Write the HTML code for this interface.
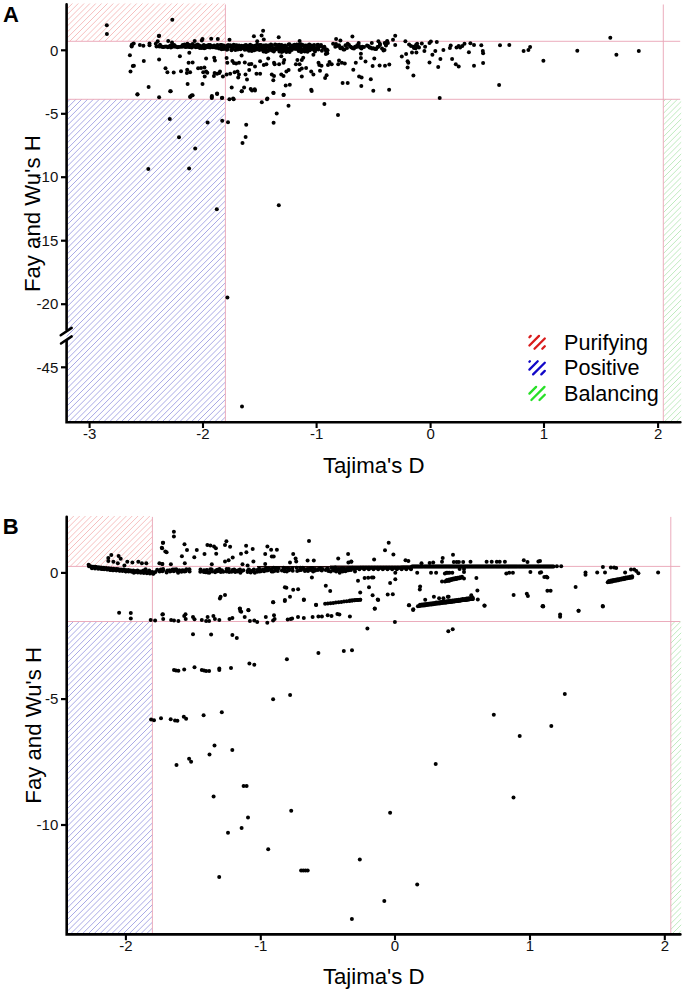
<!DOCTYPE html>
<html><head><meta charset="utf-8"><style>
html,body{margin:0;padding:0;background:#fff;}
body{width:685px;height:992px;overflow:hidden;}
svg{display:block;font-family:"Liberation Sans",sans-serif;}
.tk{font-size:15px;fill:#111;}
.lab{font-size:22.2px;fill:#000;}
.lg{font-size:21.6px;fill:#000;}
.pl{font-size:22px;font-weight:bold;fill:#000;}
</style></head><body>
<svg width="685" height="992" viewBox="0 0 685 992">
<defs>
<filter id="bl" x="-2%" y="-2%" width="104%" height="104%"><feGaussianBlur stdDeviation="0.45"/></filter>

</defs>
<rect width="685" height="992" fill="#fff"/>
<clipPath id="cra"><rect x="66.6" y="3.5" width="158.8" height="37.8"/></clipPath><g clip-path="url(#cra)"><path filter="url(#bl)" d="M65.6 10.3L73.4 2.5M65.6 16.2L79.3 2.5M65.6 22L85.1 2.5M65.6 27.8L90.9 2.5M65.6 33.7L96.8 2.5M65.6 39.5L102.6 2.5M68.7 42.3L108.5 2.5M74.5 42.3L114.3 2.5M80.3 42.3L120.1 2.5M86.2 42.3L126 2.5M92 42.3L131.8 2.5M97.9 42.3L137.7 2.5M103.7 42.3L143.5 2.5M109.5 42.3L149.3 2.5M115.4 42.3L155.2 2.5M121.2 42.3L161 2.5M127.1 42.3L166.9 2.5M132.9 42.3L172.7 2.5M138.7 42.3L178.5 2.5M144.6 42.3L184.4 2.5M150.4 42.3L190.2 2.5M156.3 42.3L196.1 2.5M162.1 42.3L201.9 2.5M167.9 42.3L207.7 2.5M173.8 42.3L213.6 2.5M179.6 42.3L219.4 2.5M185.5 42.3L225.3 2.5M191.3 42.3L226.4 7.2M197.1 42.3L226.4 13M203 42.3L226.4 18.9M208.8 42.3L226.4 24.7M214.7 42.3L226.4 30.6M220.5 42.3L226.4 36.4" stroke="#f5bcbc" stroke-width="0.95" fill="none"/></g><clipPath id="cba"><rect x="66.6" y="99.3" width="158.8" height="322.9"/></clipPath><g clip-path="url(#cba)"><path filter="url(#bl)" d="M65.6 103.8L71.1 98.3M65.6 109.6L76.9 98.3M65.6 115.4L82.7 98.3M65.6 121.3L88.6 98.3M65.6 127.1L94.4 98.3M65.6 133L100.3 98.3M65.6 138.8L106.1 98.3M65.6 144.6L111.9 98.3M65.6 150.5L117.8 98.3M65.6 156.3L123.6 98.3M65.6 162.2L129.5 98.3M65.6 168L135.3 98.3M65.6 173.8L141.1 98.3M65.6 179.7L147 98.3M65.6 185.5L152.8 98.3M65.6 191.4L158.7 98.3M65.6 197.2L164.5 98.3M65.6 203L170.3 98.3M65.6 208.9L176.2 98.3M65.6 214.7L182 98.3M65.6 220.6L187.9 98.3M65.6 226.4L193.7 98.3M65.6 232.2L199.5 98.3M65.6 238.1L205.4 98.3M65.6 243.9L211.2 98.3M65.6 249.8L217.1 98.3M65.6 255.6L222.9 98.3M65.6 261.4L226.4 100.6M65.6 267.3L226.4 106.5M65.6 273.1L226.4 112.3M65.6 279L226.4 118.2M65.6 284.8L226.4 124M65.6 290.6L226.4 129.8M65.6 296.5L226.4 135.7M65.6 302.3L226.4 141.5M65.6 308.2L226.4 147.4M65.6 314L226.4 153.2M65.6 319.8L226.4 159M65.6 325.7L226.4 164.9M65.6 331.5L226.4 170.7M65.6 337.4L226.4 176.6M65.6 343.2L226.4 182.4M65.6 349L226.4 188.2M65.6 354.9L226.4 194.1M65.6 360.7L226.4 199.9M65.6 366.6L226.4 205.8M65.6 372.4L226.4 211.6M65.6 378.2L226.4 217.4M65.6 384.1L226.4 223.3M65.6 389.9L226.4 229.1M65.6 395.8L226.4 235M65.6 401.6L226.4 240.8M65.6 407.4L226.4 246.6M65.6 413.3L226.4 252.5M65.6 419.1L226.4 258.3M67.4 423.2L226.4 264.2M73.2 423.2L226.4 270M79 423.2L226.4 275.8M84.9 423.2L226.4 281.7M90.7 423.2L226.4 287.5M96.6 423.2L226.4 293.4M102.4 423.2L226.4 299.2M108.2 423.2L226.4 305M114.1 423.2L226.4 310.9M119.9 423.2L226.4 316.7M125.8 423.2L226.4 322.6M131.6 423.2L226.4 328.4M137.4 423.2L226.4 334.2M143.3 423.2L226.4 340.1M149.1 423.2L226.4 345.9M155 423.2L226.4 351.8M160.8 423.2L226.4 357.6M166.6 423.2L226.4 363.4M172.5 423.2L226.4 369.3M178.3 423.2L226.4 375.1M184.2 423.2L226.4 381M190 423.2L226.4 386.8M195.8 423.2L226.4 392.6M201.7 423.2L226.4 398.5M207.5 423.2L226.4 404.3M213.4 423.2L226.4 410.2M219.2 423.2L226.4 416" stroke="#a4a4e4" stroke-width="0.95" fill="none"/></g><clipPath id="cga"><rect x="663.3" y="99.3" width="17.9" height="322.9"/></clipPath><g clip-path="url(#cga)"><path filter="url(#bl)" d="M662.3 102.7L666.7 98.3M662.3 108.6L672.6 98.3M662.3 114.4L678.4 98.3M662.3 120.3L682.2 100.4M662.3 126.1L682.2 106.2M662.3 131.9L682.2 112M662.3 137.8L682.2 117.9M662.3 143.6L682.2 123.7M662.3 149.5L682.2 129.6M662.3 155.3L682.2 135.4M662.3 161.1L682.2 141.2M662.3 167L682.2 147.1M662.3 172.8L682.2 152.9M662.3 178.7L682.2 158.8M662.3 184.5L682.2 164.6M662.3 190.3L682.2 170.4M662.3 196.2L682.2 176.3M662.3 202L682.2 182.1M662.3 207.9L682.2 188M662.3 213.7L682.2 193.8M662.3 219.5L682.2 199.6M662.3 225.4L682.2 205.5M662.3 231.2L682.2 211.3M662.3 237.1L682.2 217.2M662.3 242.9L682.2 223M662.3 248.7L682.2 228.8M662.3 254.6L682.2 234.7M662.3 260.4L682.2 240.5M662.3 266.3L682.2 246.4M662.3 272.1L682.2 252.2M662.3 277.9L682.2 258M662.3 283.8L682.2 263.9M662.3 289.6L682.2 269.7M662.3 295.5L682.2 275.6M662.3 301.3L682.2 281.4M662.3 307.1L682.2 287.2M662.3 313L682.2 293.1M662.3 318.8L682.2 298.9M662.3 324.7L682.2 304.8M662.3 330.5L682.2 310.6M662.3 336.3L682.2 316.4M662.3 342.2L682.2 322.3M662.3 348L682.2 328.1M662.3 353.9L682.2 334M662.3 359.7L682.2 339.8M662.3 365.5L682.2 345.6M662.3 371.4L682.2 351.5M662.3 377.2L682.2 357.3M662.3 383.1L682.2 363.2M662.3 388.9L682.2 369M662.3 394.7L682.2 374.8M662.3 400.6L682.2 380.7M662.3 406.4L682.2 386.5M662.3 412.3L682.2 392.4M662.3 418.1L682.2 398.2M663 423.2L682.2 404M668.9 423.2L682.2 409.9M674.7 423.2L682.2 415.7" stroke="#bce9bc" stroke-width="0.95" fill="none"/></g><path d="M66.6 41.3H680.2M66.6 99.3H680.2M225.4 4.5V422.2M663.3 4.5V422.2" stroke="#eaa8b8" stroke-width="0.95" fill="none"/>
<clipPath id="crb"><rect x="66.7" y="515.9" width="85.7" height="50.5"/></clipPath><g clip-path="url(#crb)"><path filter="url(#bl)" d="M65.7 518.3L69.1 514.9M65.7 524.1L74.9 514.9M65.7 530L80.8 514.9M65.7 535.8L86.6 514.9M65.7 541.7L92.5 514.9M65.7 547.5L98.3 514.9M65.7 553.3L104.1 514.9M65.7 559.2L110 514.9M65.7 565L115.8 514.9M69.2 567.4L121.7 514.9M75 567.4L127.5 514.9M80.8 567.4L133.3 514.9M86.7 567.4L139.2 514.9M92.5 567.4L145 514.9M98.4 567.4L150.9 514.9M104.2 567.4L153.4 518.2M110 567.4L153.4 524M115.9 567.4L153.4 529.9M121.7 567.4L153.4 535.7M127.6 567.4L153.4 541.6M133.4 567.4L153.4 547.4M139.2 567.4L153.4 553.2M145.1 567.4L153.4 559.1M150.9 567.4L153.4 564.9" stroke="#f5bcbc" stroke-width="0.95" fill="none"/></g><clipPath id="cbb"><rect x="66.7" y="621.5" width="85.7" height="312.9"/></clipPath><g clip-path="url(#cbb)"><path filter="url(#bl)" d="M65.7 623.4L68.6 620.5M65.7 629.3L74.5 620.5M65.7 635.1L80.3 620.5M65.7 640.9L86.1 620.5M65.7 646.8L92 620.5M65.7 652.6L97.8 620.5M65.7 658.5L103.7 620.5M65.7 664.3L109.5 620.5M65.7 670.1L115.3 620.5M65.7 676L121.2 620.5M65.7 681.8L127 620.5M65.7 687.7L132.9 620.5M65.7 693.5L138.7 620.5M65.7 699.3L144.5 620.5M65.7 705.2L150.4 620.5M65.7 711L153.4 623.3M65.7 716.9L153.4 629.2M65.7 722.7L153.4 635M65.7 728.5L153.4 640.8M65.7 734.4L153.4 646.7M65.7 740.2L153.4 652.5M65.7 746.1L153.4 658.4M65.7 751.9L153.4 664.2M65.7 757.7L153.4 670M65.7 763.6L153.4 675.9M65.7 769.4L153.4 681.7M65.7 775.3L153.4 687.6M65.7 781.1L153.4 693.4M65.7 786.9L153.4 699.2M65.7 792.8L153.4 705.1M65.7 798.6L153.4 710.9M65.7 804.5L153.4 716.8M65.7 810.3L153.4 722.6M65.7 816.1L153.4 728.4M65.7 822L153.4 734.3M65.7 827.8L153.4 740.1M65.7 833.7L153.4 746M65.7 839.5L153.4 751.8M65.7 845.3L153.4 757.6M65.7 851.2L153.4 763.5M65.7 857L153.4 769.3M65.7 862.9L153.4 775.2M65.7 868.7L153.4 781M65.7 874.5L153.4 786.8M65.7 880.4L153.4 792.7M65.7 886.2L153.4 798.5M65.7 892.1L153.4 804.4M65.7 897.9L153.4 810.2M65.7 903.7L153.4 816M65.7 909.6L153.4 821.9M65.7 915.4L153.4 827.7M65.7 921.3L153.4 833.6M65.7 927.1L153.4 839.4M65.7 932.9L153.4 845.2M69.1 935.4L153.4 851.1M74.9 935.4L153.4 856.9M80.8 935.4L153.4 862.8M86.6 935.4L153.4 868.6M92.4 935.4L153.4 874.4M98.3 935.4L153.4 880.3M104.1 935.4L153.4 886.1M110 935.4L153.4 892M115.8 935.4L153.4 897.8M121.6 935.4L153.4 903.6M127.5 935.4L153.4 909.5M133.3 935.4L153.4 915.3M139.2 935.4L153.4 921.2M145 935.4L153.4 927M150.8 935.4L153.4 932.8" stroke="#a4a4e4" stroke-width="0.95" fill="none"/></g><clipPath id="cgb"><rect x="670.8" y="621.5" width="10.4" height="312.9"/></clipPath><g clip-path="url(#cgb)"><path filter="url(#bl)" d="M669.8 626.7L676 620.5M669.8 632.5L681.8 620.5M669.8 638.4L682.2 626M669.8 644.2L682.2 631.8M669.8 650L682.2 637.6M669.8 655.9L682.2 643.5M669.8 661.7L682.2 649.3M669.8 667.6L682.2 655.2M669.8 673.4L682.2 661M669.8 679.2L682.2 666.8M669.8 685.1L682.2 672.7M669.8 690.9L682.2 678.5M669.8 696.8L682.2 684.4M669.8 702.6L682.2 690.2M669.8 708.4L682.2 696M669.8 714.3L682.2 701.9M669.8 720.1L682.2 707.7M669.8 726L682.2 713.6M669.8 731.8L682.2 719.4M669.8 737.6L682.2 725.2M669.8 743.5L682.2 731.1M669.8 749.3L682.2 736.9M669.8 755.2L682.2 742.8M669.8 761L682.2 748.6M669.8 766.8L682.2 754.4M669.8 772.7L682.2 760.3M669.8 778.5L682.2 766.1M669.8 784.4L682.2 772M669.8 790.2L682.2 777.8M669.8 796L682.2 783.6M669.8 801.9L682.2 789.5M669.8 807.7L682.2 795.3M669.8 813.6L682.2 801.2M669.8 819.4L682.2 807M669.8 825.2L682.2 812.8M669.8 831.1L682.2 818.7M669.8 836.9L682.2 824.5M669.8 842.8L682.2 830.4M669.8 848.6L682.2 836.2M669.8 854.4L682.2 842M669.8 860.3L682.2 847.9M669.8 866.1L682.2 853.7M669.8 872L682.2 859.6M669.8 877.8L682.2 865.4M669.8 883.6L682.2 871.2M669.8 889.5L682.2 877.1M669.8 895.3L682.2 882.9M669.8 901.2L682.2 888.8M669.8 907L682.2 894.6M669.8 912.8L682.2 900.4M669.8 918.7L682.2 906.3M669.8 924.5L682.2 912.1M669.8 930.4L682.2 918M670.6 935.4L682.2 923.8M676.4 935.4L682.2 929.6" stroke="#bce9bc" stroke-width="0.95" fill="none"/></g><path d="M66.7 566.4H680.2M66.7 621.5H680.2M152.4 516.9V934.4M670.8 516.9V934.4" stroke="#eaa8b8" stroke-width="0.95" fill="none"/>
<path d="M257 566.7H330" stroke="#1a0505" stroke-width="1.4"/><path d="M330 566.6H412" stroke="#1a0505" stroke-width="2.2"/>
<g fill="#000"><circle cx="106.8" cy="25.2" r="2.0"/><circle cx="106.9" cy="33.9" r="2.0"/><circle cx="172.3" cy="19.7" r="2.0"/><circle cx="159.1" cy="35.8" r="2.0"/><circle cx="158.9" cy="36.1" r="2.0"/><circle cx="168.2" cy="40.9" r="2.0"/><circle cx="157.7" cy="41.2" r="2.0"/><circle cx="172" cy="42.6" r="2.0"/><circle cx="194.7" cy="40.9" r="2.0"/><circle cx="202.5" cy="39.1" r="2.0"/><circle cx="201.8" cy="40.6" r="2.0"/><circle cx="211.2" cy="38.7" r="2.0"/><circle cx="217.8" cy="39.1" r="2.0"/><circle cx="263.1" cy="30.7" r="2.0"/><circle cx="253.9" cy="36.2" r="2.0"/><circle cx="261.6" cy="35.5" r="2.0"/><circle cx="278.7" cy="37.2" r="2.0"/><circle cx="229.5" cy="39.7" r="2.0"/><circle cx="263.8" cy="39.4" r="2.0"/><circle cx="299.6" cy="40.9" r="2.0"/><circle cx="257.2" cy="41.2" r="2.0"/><circle cx="352.4" cy="36.5" r="2.0"/><circle cx="395.2" cy="35.8" r="2.0"/><circle cx="336.1" cy="39.1" r="2.0"/><circle cx="340.4" cy="40.6" r="2.0"/><circle cx="393" cy="39.7" r="2.0"/><circle cx="405.4" cy="41.2" r="2.0"/><circle cx="378.4" cy="41.2" r="2.0"/><circle cx="387.2" cy="40.9" r="2.0"/><circle cx="358.7" cy="43.1" r="2.0"/><circle cx="371.8" cy="43.1" r="2.0"/><circle cx="421.8" cy="43.5" r="2.0"/><circle cx="429.5" cy="43.1" r="2.0"/><circle cx="430.9" cy="41.6" r="2.0"/><circle cx="436.8" cy="42" r="2.0"/><circle cx="610.3" cy="37.8" r="2.0"/><circle cx="131.5" cy="45.8" r="2.0"/><circle cx="133.7" cy="43.6" r="2.0"/><circle cx="132" cy="44.5" r="2.0"/><circle cx="131.7" cy="46.4" r="2.0"/><circle cx="139.9" cy="44.9" r="2.0"/><circle cx="143.4" cy="45.8" r="2.0"/><circle cx="149.5" cy="43.6" r="2.0"/><circle cx="149.5" cy="45.3" r="2.0"/><circle cx="155.8" cy="43.8" r="2.0"/><circle cx="156.5" cy="46.4" r="2.0"/><circle cx="320.7" cy="46" r="2.0"/><circle cx="324.4" cy="46.7" r="2.0"/><circle cx="326.6" cy="49.6" r="2.0"/><circle cx="333.1" cy="43.8" r="2.0"/><circle cx="335.3" cy="46.7" r="2.0"/><circle cx="339" cy="45.3" r="2.0"/><circle cx="340.4" cy="48.2" r="2.0"/><circle cx="343.4" cy="49.6" r="2.0"/><circle cx="345.5" cy="45.3" r="2.0"/><circle cx="347.7" cy="43.8" r="2.0"/><circle cx="350.7" cy="46.7" r="2.0"/><circle cx="352.8" cy="48.2" r="2.0"/><circle cx="355" cy="46.7" r="2.0"/><circle cx="357.2" cy="45.3" r="2.0"/><circle cx="360.1" cy="47.4" r="2.0"/><circle cx="362.3" cy="46.7" r="2.0"/><circle cx="368.2" cy="46" r="2.0"/><circle cx="370.4" cy="47.4" r="2.0"/><circle cx="373.3" cy="48.2" r="2.0"/><circle cx="376.2" cy="48.9" r="2.0"/><circle cx="378.4" cy="46.7" r="2.0"/><circle cx="379.9" cy="43.8" r="2.0"/><circle cx="383.5" cy="50.4" r="2.0"/><circle cx="385.7" cy="44.5" r="2.0"/><circle cx="387.9" cy="43.1" r="2.0"/><circle cx="395.2" cy="45" r="2.0"/><circle cx="409.1" cy="44.5" r="2.0"/><circle cx="413.4" cy="46.7" r="2.0"/><circle cx="415.6" cy="48.2" r="2.0"/><circle cx="417.1" cy="43.8" r="2.0"/><circle cx="417.8" cy="46.7" r="2.0"/><circle cx="425.1" cy="46.7" r="2.0"/><circle cx="424.4" cy="51.1" r="2.0"/><circle cx="435.3" cy="51.1" r="2.0"/><circle cx="432.4" cy="54.7" r="2.0"/><circle cx="443.4" cy="49.9" r="2.0"/><circle cx="450.7" cy="45.5" r="2.0"/><circle cx="449.9" cy="47.9" r="2.0"/><circle cx="456.5" cy="47.4" r="2.0"/><circle cx="458.7" cy="46" r="2.0"/><circle cx="460.1" cy="47.4" r="2.0"/><circle cx="462.3" cy="46" r="2.0"/><circle cx="464.5" cy="43.8" r="2.0"/><circle cx="470.4" cy="43.2" r="2.0"/><circle cx="474" cy="45" r="2.0"/><circle cx="481.3" cy="45.3" r="2.0"/><circle cx="500" cy="45.3" r="2.0"/><circle cx="509.3" cy="45" r="2.0"/><circle cx="468.9" cy="52.3" r="2.0"/><circle cx="482.8" cy="51.1" r="2.0"/><circle cx="483.1" cy="53.3" r="2.0"/><circle cx="440.4" cy="59.1" r="2.0"/><circle cx="452.1" cy="59.1" r="2.0"/><circle cx="429.5" cy="62.5" r="2.0"/><circle cx="455.8" cy="64.2" r="2.0"/><circle cx="458.7" cy="66.4" r="2.0"/><circle cx="438.2" cy="66.9" r="2.0"/><circle cx="474" cy="65.7" r="2.0"/><circle cx="483.1" cy="63.1" r="2.0"/><circle cx="499.1" cy="85" r="2.0"/><circle cx="439.7" cy="98.1" r="2.0"/><circle cx="523.6" cy="51.1" r="2.0"/><circle cx="528.4" cy="50.1" r="2.0"/><circle cx="530.1" cy="47" r="2.0"/><circle cx="543.4" cy="60.7" r="2.0"/><circle cx="577.3" cy="50.8" r="2.0"/><circle cx="616.4" cy="54.7" r="2.0"/><circle cx="638.8" cy="51.1" r="2.0"/><circle cx="129.9" cy="55.2" r="2.0"/><circle cx="143.8" cy="61" r="2.0"/><circle cx="159.1" cy="59.6" r="2.0"/><circle cx="179.9" cy="56.2" r="2.0"/><circle cx="189.3" cy="52.8" r="2.0"/><circle cx="206.1" cy="58.4" r="2.0"/><circle cx="214.2" cy="57.7" r="2.0"/><circle cx="214.9" cy="60.6" r="2.0"/><circle cx="133.9" cy="65.7" r="2.0"/><circle cx="132.8" cy="65.9" r="2.0"/><circle cx="188.6" cy="62.8" r="2.0"/><circle cx="192.6" cy="62.5" r="2.0"/><circle cx="130.5" cy="71.5" r="2.0"/><circle cx="165.5" cy="68.2" r="2.0"/><circle cx="167.4" cy="72.3" r="2.0"/><circle cx="173.7" cy="72.6" r="2.0"/><circle cx="181" cy="71.2" r="2.0"/><circle cx="187.2" cy="69.8" r="2.0"/><circle cx="186.9" cy="73" r="2.0"/><circle cx="190.1" cy="72.3" r="2.0"/><circle cx="198.1" cy="68.3" r="2.0"/><circle cx="201" cy="67.9" r="2.0"/><circle cx="204.4" cy="67.4" r="2.0"/><circle cx="203.2" cy="72.3" r="2.0"/><circle cx="206.1" cy="71.5" r="2.0"/><circle cx="207.3" cy="72.7" r="2.0"/><circle cx="204.7" cy="76.6" r="2.0"/><circle cx="214.6" cy="73" r="2.0"/><circle cx="217.1" cy="73.7" r="2.0"/><circle cx="219.3" cy="73" r="2.0"/><circle cx="213.9" cy="75.9" r="2.0"/><circle cx="187.6" cy="83.9" r="2.0"/><circle cx="202.5" cy="83.9" r="2.0"/><circle cx="148.6" cy="86.9" r="2.0"/><circle cx="137.5" cy="94.3" r="2.0"/><circle cx="170.7" cy="91.2" r="2.0"/><circle cx="159.1" cy="97.3" r="2.0"/><circle cx="191.5" cy="95.6" r="2.0"/><circle cx="190.1" cy="97.1" r="2.0"/><circle cx="211.7" cy="97.1" r="2.0"/><circle cx="217.1" cy="93.4" r="2.0"/><circle cx="241.6" cy="55.5" r="2.0"/><circle cx="226.6" cy="58.1" r="2.0"/><circle cx="227.3" cy="62.8" r="2.0"/><circle cx="232.4" cy="61" r="2.0"/><circle cx="233.9" cy="63.1" r="2.0"/><circle cx="236.1" cy="63.5" r="2.0"/><circle cx="239" cy="62.8" r="2.0"/><circle cx="244.8" cy="62.5" r="2.0"/><circle cx="249.2" cy="64.2" r="2.0"/><circle cx="251.4" cy="63.9" r="2.0"/><circle cx="255" cy="66.4" r="2.0"/><circle cx="260.1" cy="61.3" r="2.0"/><circle cx="263.8" cy="65" r="2.0"/><circle cx="266.4" cy="64.2" r="2.0"/><circle cx="268.2" cy="58.4" r="2.0"/><circle cx="274" cy="62.8" r="2.0"/><circle cx="274.7" cy="64.2" r="2.0"/><circle cx="279.1" cy="64.2" r="2.0"/><circle cx="281.3" cy="56.2" r="2.0"/><circle cx="284.2" cy="59.9" r="2.0"/><circle cx="283.5" cy="62.8" r="2.0"/><circle cx="297.4" cy="59.9" r="2.0"/><circle cx="295.9" cy="64.2" r="2.0"/><circle cx="299.6" cy="64.2" r="2.0"/><circle cx="303.2" cy="57.7" r="2.0"/><circle cx="301.8" cy="59.9" r="2.0"/><circle cx="313.4" cy="54.7" r="2.0"/><circle cx="318.5" cy="62.8" r="2.0"/><circle cx="319.3" cy="65" r="2.0"/><circle cx="220" cy="71.5" r="2.0"/><circle cx="222.9" cy="76.6" r="2.0"/><circle cx="226.6" cy="74.5" r="2.0"/><circle cx="230.2" cy="73.7" r="2.0"/><circle cx="234.6" cy="72.3" r="2.0"/><circle cx="237.5" cy="71.5" r="2.0"/><circle cx="239" cy="74.5" r="2.0"/><circle cx="238.2" cy="77.4" r="2.0"/><circle cx="245.5" cy="74.5" r="2.0"/><circle cx="247" cy="79.6" r="2.0"/><circle cx="249.2" cy="70.1" r="2.0"/><circle cx="256.5" cy="73.7" r="2.0"/><circle cx="260.1" cy="73.7" r="2.0"/><circle cx="271.8" cy="74.5" r="2.0"/><circle cx="274" cy="75.9" r="2.0"/><circle cx="273.3" cy="80.3" r="2.0"/><circle cx="281.3" cy="74.5" r="2.0"/><circle cx="283.5" cy="75.9" r="2.0"/><circle cx="286.4" cy="71.5" r="2.0"/><circle cx="288.6" cy="70.1" r="2.0"/><circle cx="299.6" cy="70.1" r="2.0"/><circle cx="301.8" cy="68.6" r="2.0"/><circle cx="306.1" cy="67.9" r="2.0"/><circle cx="301.8" cy="76.6" r="2.0"/><circle cx="311.2" cy="71.5" r="2.0"/><circle cx="313.4" cy="74.5" r="2.0"/><circle cx="231.7" cy="87.6" r="2.0"/><circle cx="241.9" cy="91.2" r="2.0"/><circle cx="244.1" cy="87.6" r="2.0"/><circle cx="250.7" cy="89.1" r="2.0"/><circle cx="254.7" cy="89.3" r="2.0"/><circle cx="273.3" cy="92.7" r="2.0"/><circle cx="285.7" cy="85.4" r="2.0"/><circle cx="289.8" cy="84.7" r="2.0"/><circle cx="283.5" cy="94.9" r="2.0"/><circle cx="311.2" cy="89.8" r="2.0"/><circle cx="222.2" cy="97.8" r="2.0"/><circle cx="233.1" cy="98.5" r="2.0"/><circle cx="267.4" cy="98.5" r="2.0"/><circle cx="327.3" cy="53.3" r="2.0"/><circle cx="325.8" cy="54" r="2.0"/><circle cx="360.9" cy="53.7" r="2.0"/><circle cx="412" cy="52.6" r="2.0"/><circle cx="416.4" cy="52.6" r="2.0"/><circle cx="406.1" cy="54" r="2.0"/><circle cx="401.8" cy="56.6" r="2.0"/><circle cx="360.9" cy="58.1" r="2.0"/><circle cx="374.3" cy="58.4" r="2.0"/><circle cx="321.5" cy="65.7" r="2.0"/><circle cx="320" cy="70.8" r="2.0"/><circle cx="329.5" cy="62" r="2.0"/><circle cx="328" cy="65" r="2.0"/><circle cx="331.7" cy="64.2" r="2.0"/><circle cx="339" cy="60.6" r="2.0"/><circle cx="338.2" cy="64.2" r="2.0"/><circle cx="341.9" cy="62.8" r="2.0"/><circle cx="344.8" cy="63.5" r="2.0"/><circle cx="355.8" cy="62.8" r="2.0"/><circle cx="365.5" cy="61.6" r="2.0"/><circle cx="372.6" cy="66" r="2.0"/><circle cx="379.6" cy="65.4" r="2.0"/><circle cx="385" cy="65.7" r="2.0"/><circle cx="389.3" cy="64.5" r="2.0"/><circle cx="407.6" cy="61.3" r="2.0"/><circle cx="408.3" cy="62.8" r="2.0"/><circle cx="407.6" cy="67.4" r="2.0"/><circle cx="353.3" cy="69.8" r="2.0"/><circle cx="326.6" cy="75.2" r="2.0"/><circle cx="325.1" cy="78.1" r="2.0"/><circle cx="359.1" cy="76.6" r="2.0"/><circle cx="361.6" cy="77.4" r="2.0"/><circle cx="370.8" cy="79.3" r="2.0"/><circle cx="413.4" cy="75.6" r="2.0"/><circle cx="342.6" cy="82.9" r="2.0"/><circle cx="347.7" cy="82.9" r="2.0"/><circle cx="361.3" cy="86.1" r="2.0"/><circle cx="373.3" cy="90.8" r="2.0"/><circle cx="389.1" cy="89.8" r="2.0"/><circle cx="137.4" cy="94.4" r="2.0"/><circle cx="170.2" cy="91.3" r="2.0"/><circle cx="190.4" cy="96.6" r="2.0"/><circle cx="192.6" cy="95.3" r="2.0"/><circle cx="211.8" cy="97.9" r="2.0"/><circle cx="211.9" cy="96" r="2.0"/><circle cx="217.1" cy="93.9" r="2.0"/><circle cx="221.9" cy="97.9" r="2.0"/><circle cx="229.4" cy="99.2" r="2.0"/><circle cx="233.7" cy="99.2" r="2.0"/><circle cx="241.6" cy="91.3" r="2.0"/><circle cx="252" cy="90.4" r="2.0"/><circle cx="255" cy="90.4" r="2.0"/><circle cx="261.8" cy="102.3" r="2.0"/><circle cx="267" cy="99.2" r="2.0"/><circle cx="273.6" cy="93.1" r="2.0"/><circle cx="283.7" cy="94.8" r="2.0"/><circle cx="288.5" cy="105.8" r="2.0"/><circle cx="311.7" cy="90.9" r="2.0"/><circle cx="324.4" cy="104" r="2.0"/><circle cx="338" cy="115" r="2.0"/><circle cx="169.8" cy="118.9" r="2.0"/><circle cx="179" cy="137.3" r="2.0"/><circle cx="195.2" cy="148.4" r="2.0"/><circle cx="148.3" cy="169" r="2.0"/><circle cx="189.1" cy="168.5" r="2.0"/><circle cx="207.6" cy="122.5" r="2.0"/><circle cx="222.2" cy="120.7" r="2.0"/><circle cx="228" cy="122.2" r="2.0"/><circle cx="246.2" cy="124.8" r="2.0"/><circle cx="245.6" cy="136.9" r="2.0"/><circle cx="242.5" cy="143.1" r="2.0"/><circle cx="276.7" cy="113.6" r="2.0"/><circle cx="273.6" cy="122.8" r="2.0"/><circle cx="216.8" cy="209.3" r="2.0"/><circle cx="278.8" cy="205.3" r="2.0"/><circle cx="227.4" cy="297.6" r="2.0"/><circle cx="242" cy="406.6" r="2.0"/><circle cx="159.3" cy="46.5" r="2.0"/><circle cx="161.1" cy="46.4" r="2.0"/><circle cx="162.3" cy="46.7" r="2.0"/><circle cx="163.2" cy="46.9" r="2.0"/><circle cx="164.5" cy="46.8" r="2.0"/><circle cx="166" cy="46.4" r="2.0"/><circle cx="167.8" cy="47.3" r="2.0"/><circle cx="168.8" cy="46.6" r="2.0"/><circle cx="170.9" cy="47.4" r="2.0"/><circle cx="172.2" cy="46.8" r="2.0"/><circle cx="174.1" cy="46.4" r="2.0"/><circle cx="175.3" cy="46.6" r="2.0"/><circle cx="175.9" cy="46.4" r="2.0"/><circle cx="177.5" cy="47.3" r="2.0"/><circle cx="178.7" cy="47" r="2.0"/><circle cx="180.7" cy="46.7" r="2.0"/><circle cx="182" cy="46.4" r="2.0"/><circle cx="182.8" cy="46.5" r="2.0"/><circle cx="184.9" cy="46.8" r="2.0"/><circle cx="185.9" cy="47" r="2.0"/><circle cx="187.4" cy="46.7" r="2.0"/><circle cx="189.3" cy="47.1" r="2.0"/><circle cx="190" cy="47" r="2.0"/><circle cx="191.7" cy="47.4" r="2.0"/><circle cx="193.4" cy="46.6" r="2.0"/><circle cx="195.1" cy="46.4" r="2.0"/><circle cx="195.8" cy="47.2" r="2.0"/><circle cx="196.9" cy="46.9" r="2.0"/><circle cx="198.1" cy="47.1" r="2.0"/><circle cx="160" cy="44.7" r="2.0"/><circle cx="170.6" cy="45.5" r="2.0"/><circle cx="172.4" cy="44.9" r="2.0"/><circle cx="174.2" cy="45" r="2.0"/><circle cx="182.7" cy="44.9" r="2.0"/><circle cx="184.5" cy="44.5" r="2.0"/><circle cx="187.4" cy="43.8" r="2.0"/><circle cx="189.8" cy="45.1" r="2.0"/><circle cx="192.6" cy="44.1" r="2.0"/><circle cx="195.7" cy="45.3" r="2.0"/><circle cx="197.7" cy="44.5" r="2.0"/><circle cx="199.3" cy="45.5" r="2.0"/><circle cx="199.8" cy="47.9" r="2.0"/><circle cx="202.4" cy="45.9" r="2.0"/><circle cx="201.8" cy="48" r="2.0"/><circle cx="203.8" cy="45" r="2.0"/><circle cx="204.2" cy="48.2" r="2.0"/><circle cx="205.9" cy="46" r="2.0"/><circle cx="205.2" cy="47.7" r="2.0"/><circle cx="206.6" cy="45.8" r="2.0"/><circle cx="206.6" cy="47.2" r="2.0"/><circle cx="208.6" cy="45.1" r="2.0"/><circle cx="208.8" cy="47.2" r="2.0"/><circle cx="210.1" cy="45.1" r="2.0"/><circle cx="210.2" cy="47.6" r="2.0"/><circle cx="211.9" cy="46.1" r="2.0"/><circle cx="212.8" cy="47.3" r="2.0"/><circle cx="214.1" cy="45.4" r="2.0"/><circle cx="214.2" cy="47.3" r="2.0"/><circle cx="216.7" cy="46.3" r="2.0"/><circle cx="216.2" cy="47.8" r="2.0"/><circle cx="217.4" cy="45" r="2.0"/><circle cx="217.8" cy="47.5" r="2.0"/><circle cx="220.3" cy="45.1" r="2.0"/><circle cx="219.1" cy="48.4" r="2.0"/><circle cx="221.6" cy="45.1" r="2.0"/><circle cx="221.7" cy="47.1" r="2.0"/><circle cx="222" cy="45.8" r="2.0"/><circle cx="222.6" cy="47.6" r="2.0"/><circle cx="221.6" cy="49.2" r="2.0"/><circle cx="223.7" cy="45.4" r="2.0"/><circle cx="224.3" cy="47.7" r="2.0"/><circle cx="223.9" cy="49" r="2.0"/><circle cx="226.9" cy="45.8" r="2.0"/><circle cx="227" cy="47.8" r="2.0"/><circle cx="226.9" cy="49.8" r="2.0"/><circle cx="228.2" cy="45" r="2.0"/><circle cx="228.4" cy="46.5" r="2.0"/><circle cx="227.8" cy="49" r="2.0"/><circle cx="230.4" cy="45.3" r="2.0"/><circle cx="231.5" cy="47.2" r="2.0"/><circle cx="231.5" cy="50.2" r="2.0"/><circle cx="233.7" cy="44.8" r="2.0"/><circle cx="232.6" cy="46.9" r="2.0"/><circle cx="232.5" cy="48.9" r="2.0"/><circle cx="235.4" cy="45.6" r="2.0"/><circle cx="235.7" cy="47.3" r="2.0"/><circle cx="235.4" cy="49.9" r="2.0"/><circle cx="236.7" cy="45.3" r="2.0"/><circle cx="238.1" cy="47.8" r="2.0"/><circle cx="237.8" cy="49.4" r="2.0"/><circle cx="239.1" cy="45.5" r="2.0"/><circle cx="239.3" cy="47.8" r="2.0"/><circle cx="240.4" cy="49.2" r="2.0"/><circle cx="241.6" cy="45.7" r="2.0"/><circle cx="242.2" cy="46.8" r="2.0"/><circle cx="241.2" cy="48.8" r="2.0"/><circle cx="244.6" cy="45.5" r="2.0"/><circle cx="243.4" cy="47.8" r="2.0"/><circle cx="244.8" cy="49.7" r="2.0"/><circle cx="246" cy="45.1" r="2.0"/><circle cx="245.6" cy="46.5" r="2.0"/><circle cx="247" cy="49.6" r="2.0"/><circle cx="248.4" cy="45.7" r="2.0"/><circle cx="248.3" cy="47.9" r="2.0"/><circle cx="248.9" cy="48.9" r="2.0"/><circle cx="250.2" cy="44.7" r="2.0"/><circle cx="250.2" cy="47.4" r="2.0"/><circle cx="250.2" cy="49.3" r="2.0"/><circle cx="252.2" cy="45.7" r="2.0"/><circle cx="252.6" cy="47.2" r="2.0"/><circle cx="252.9" cy="50" r="2.0"/><circle cx="254.9" cy="45.7" r="2.0"/><circle cx="255" cy="47.4" r="2.0"/><circle cx="255" cy="48.6" r="2.0"/><circle cx="257.1" cy="44.5" r="2.0"/><circle cx="256.4" cy="47.8" r="2.0"/><circle cx="256.7" cy="49.4" r="2.0"/><circle cx="259.8" cy="45.1" r="2.0"/><circle cx="259.1" cy="47.3" r="2.0"/><circle cx="259.5" cy="49.9" r="2.0"/><circle cx="261" cy="45.1" r="2.0"/><circle cx="261.2" cy="46.9" r="2.0"/><circle cx="262" cy="49.4" r="2.0"/><circle cx="263.9" cy="45.4" r="2.0"/><circle cx="264.5" cy="47.2" r="2.0"/><circle cx="264" cy="49.4" r="2.0"/><circle cx="266" cy="45.3" r="2.0"/><circle cx="265.9" cy="47.4" r="2.0"/><circle cx="266" cy="50.1" r="2.0"/><circle cx="268.5" cy="45.6" r="2.0"/><circle cx="268.9" cy="46.9" r="2.0"/><circle cx="268.3" cy="50.1" r="2.0"/><circle cx="270.9" cy="44.4" r="2.0"/><circle cx="269.8" cy="47.2" r="2.0"/><circle cx="269.7" cy="49" r="2.0"/><circle cx="271.9" cy="45.3" r="2.0"/><circle cx="273.1" cy="47.9" r="2.0"/><circle cx="272" cy="49.7" r="2.0"/><circle cx="275.1" cy="44.4" r="2.0"/><circle cx="275.4" cy="48" r="2.0"/><circle cx="274.4" cy="50.1" r="2.0"/><circle cx="276.8" cy="45" r="2.0"/><circle cx="277.8" cy="47.8" r="2.0"/><circle cx="276.5" cy="49.3" r="2.0"/><circle cx="279.2" cy="44.7" r="2.0"/><circle cx="278.7" cy="47" r="2.0"/><circle cx="279.6" cy="48.6" r="2.0"/><circle cx="281.5" cy="44.9" r="2.0"/><circle cx="280.6" cy="47" r="2.0"/><circle cx="281.6" cy="49.4" r="2.0"/><circle cx="282.9" cy="45.8" r="2.0"/><circle cx="284.1" cy="48.1" r="2.0"/><circle cx="283" cy="49" r="2.0"/><circle cx="285.1" cy="45.4" r="2.0"/><circle cx="285.4" cy="46.7" r="2.0"/><circle cx="285.7" cy="50.1" r="2.0"/><circle cx="288.5" cy="44.6" r="2.0"/><circle cx="287.4" cy="48" r="2.0"/><circle cx="288.1" cy="49.7" r="2.0"/><circle cx="289.5" cy="44.3" r="2.0"/><circle cx="290.5" cy="47.2" r="2.0"/><circle cx="289.5" cy="50.1" r="2.0"/><circle cx="292.6" cy="45.5" r="2.0"/><circle cx="291.7" cy="47.9" r="2.0"/><circle cx="291.7" cy="50" r="2.0"/><circle cx="294.5" cy="44.7" r="2.0"/><circle cx="294.7" cy="48" r="2.0"/><circle cx="294.2" cy="48.8" r="2.0"/><circle cx="296.8" cy="44.6" r="2.0"/><circle cx="296.2" cy="46.8" r="2.0"/><circle cx="296.1" cy="48.9" r="2.0"/><circle cx="298.7" cy="44.7" r="2.0"/><circle cx="299.4" cy="47" r="2.0"/><circle cx="299" cy="48.9" r="2.0"/><circle cx="301" cy="44.2" r="2.0"/><circle cx="300.8" cy="46.5" r="2.0"/><circle cx="301.6" cy="49.5" r="2.0"/><circle cx="302.9" cy="45" r="2.0"/><circle cx="304.1" cy="46.7" r="2.0"/><circle cx="303.9" cy="49.3" r="2.0"/><circle cx="305.6" cy="45.5" r="2.0"/><circle cx="305.4" cy="47.3" r="2.0"/><circle cx="305.9" cy="50.2" r="2.0"/><circle cx="307.5" cy="45.5" r="2.0"/><circle cx="308.1" cy="47.5" r="2.0"/><circle cx="307.6" cy="49.2" r="2.0"/><circle cx="309.3" cy="44.4" r="2.0"/><circle cx="309.3" cy="47.7" r="2.0"/><circle cx="309.6" cy="48.9" r="2.0"/><circle cx="311.5" cy="45.5" r="2.0"/><circle cx="312.8" cy="47.6" r="2.0"/><circle cx="311.9" cy="49" r="2.0"/><circle cx="314.1" cy="44.9" r="2.0"/><circle cx="313.9" cy="47.2" r="2.0"/><circle cx="314" cy="50.1" r="2.0"/><circle cx="317.4" cy="45.1" r="2.0"/><circle cx="316.2" cy="48" r="2.0"/><circle cx="316.3" cy="49.2" r="2.0"/><circle cx="318" cy="44.8" r="2.0"/><circle cx="318.8" cy="47.3" r="2.0"/><circle cx="318.3" cy="49.4" r="2.0"/><circle cx="249" cy="50.8" r="2.0"/><circle cx="251.8" cy="51.1" r="2.0"/><circle cx="254.3" cy="50.3" r="2.0"/><circle cx="263.5" cy="51.6" r="2.0"/><circle cx="266" cy="52.1" r="2.0"/><circle cx="268" cy="51" r="2.0"/><circle cx="271.8" cy="50.6" r="2.0"/><circle cx="273.8" cy="51.6" r="2.0"/><circle cx="279.4" cy="51.6" r="2.0"/><circle cx="281.7" cy="51.9" r="2.0"/><circle cx="283.1" cy="51.3" r="2.0"/><circle cx="286.4" cy="52" r="2.0"/><circle cx="289.6" cy="52" r="2.0"/><circle cx="298.7" cy="51" r="2.0"/><circle cx="301.2" cy="52" r="2.0"/><circle cx="304.7" cy="51.6" r="2.0"/><circle cx="307.5" cy="51.7" r="2.0"/><circle cx="309.8" cy="50.3" r="2.0"/><circle cx="315" cy="51.4" r="2.0"/><circle cx="321.9" cy="50.8" r="2.0"/><circle cx="325.9" cy="50.7" r="2.0"/><circle cx="321" cy="45" r="2.0"/><circle cx="323" cy="47.5" r="2.0"/><circle cx="325" cy="49" r="2.0"/><circle cx="327.5" cy="50.2" r="2.0"/><circle cx="336" cy="44" r="2.0"/><circle cx="338" cy="46" r="2.0"/><circle cx="342" cy="47.5" r="2.0"/><circle cx="344.5" cy="49.5" r="2.0"/><circle cx="347" cy="48" r="2.0"/><circle cx="349" cy="45" r="2.0"/><circle cx="351.5" cy="47.5" r="2.0"/><circle cx="354" cy="48.5" r="2.0"/><circle cx="356.5" cy="47" r="2.0"/><circle cx="359" cy="46" r="2.0"/><circle cx="361.5" cy="48.5" r="2.0"/><circle cx="364" cy="47" r="2.0"/><circle cx="367" cy="45.5" r="2.0"/><circle cx="369.5" cy="47.5" r="2.0"/><circle cx="372" cy="48.5" r="2.0"/><circle cx="375" cy="49" r="2.0"/><circle cx="377.5" cy="47" r="2.0"/><circle cx="380" cy="45" r="2.0"/><circle cx="382" cy="48.5" r="2.0"/><circle cx="384.5" cy="50" r="2.0"/><circle cx="384.7" cy="43" r="2.0"/><circle cx="387" cy="42" r="2.0"/><circle cx="386" cy="45.5" r="2.0"/><circle cx="411" cy="46" r="2.0"/><circle cx="414" cy="48" r="2.0"/><circle cx="416" cy="45" r="2.0"/><circle cx="419" cy="47.5" r="2.0"/><circle cx="89.4" cy="566.1" r="2.0"/><circle cx="91.5" cy="567.6" r="2.0"/><circle cx="95.2" cy="566.8" r="2.0"/><circle cx="99.6" cy="568.3" r="2.0"/><circle cx="102.5" cy="569" r="2.0"/><circle cx="106.9" cy="569.3" r="2.0"/><circle cx="109.8" cy="569.7" r="2.0"/><circle cx="112.7" cy="570.2" r="2.0"/><circle cx="117.1" cy="569.3" r="2.0"/><circle cx="120" cy="570.5" r="2.0"/><circle cx="122.9" cy="570.2" r="2.0"/><circle cx="125.9" cy="571.6" r="2.0"/><circle cx="130.2" cy="570.8" r="2.0"/><circle cx="133.9" cy="572.7" r="2.0"/><circle cx="137.5" cy="570.5" r="2.0"/><circle cx="141.9" cy="571.6" r="2.0"/><circle cx="145.6" cy="569.3" r="2.0"/><circle cx="149.2" cy="570.5" r="2.0"/><circle cx="152.1" cy="571.9" r="2.0"/><circle cx="153.6" cy="573.4" r="2.0"/><circle cx="157.2" cy="569.7" r="2.0"/><circle cx="160.2" cy="570.5" r="2.0"/><circle cx="163.1" cy="570.2" r="2.0"/><circle cx="88.6" cy="564.8" r="2.0"/><circle cx="104" cy="568.5" r="2.0"/><circle cx="115" cy="569.8" r="2.0"/><circle cx="127.5" cy="571" r="2.0"/><circle cx="135.5" cy="571.8" r="2.0"/><circle cx="143.5" cy="570.6" r="2.0"/><circle cx="155.5" cy="572" r="2.0"/><circle cx="111.3" cy="555.1" r="2.0"/><circle cx="108.3" cy="558.1" r="2.0"/><circle cx="108.3" cy="561" r="2.0"/><circle cx="113.4" cy="561.7" r="2.0"/><circle cx="118.6" cy="555.9" r="2.0"/><circle cx="120.7" cy="558.8" r="2.0"/><circle cx="117.8" cy="563.2" r="2.0"/><circle cx="124.4" cy="565.4" r="2.0"/><circle cx="127.3" cy="561.7" r="2.0"/><circle cx="132.4" cy="562.4" r="2.0"/><circle cx="138.3" cy="561.7" r="2.0"/><circle cx="141.9" cy="563.2" r="2.0"/><circle cx="146.3" cy="563.2" r="2.0"/><circle cx="159.4" cy="563.2" r="2.0"/><circle cx="162.4" cy="563.9" r="2.0"/><circle cx="163.1" cy="542.7" r="2.0"/><circle cx="162.1" cy="548.3" r="2.0"/><circle cx="165.3" cy="551.5" r="2.0"/><circle cx="173.9" cy="531.8" r="2.0"/><circle cx="173.9" cy="536.6" r="2.0"/><circle cx="162.9" cy="542.7" r="2.0"/><circle cx="161.8" cy="547.8" r="2.0"/><circle cx="166.6" cy="552.2" r="2.0"/><circle cx="184.5" cy="544.2" r="2.0"/><circle cx="187" cy="550" r="2.0"/><circle cx="181.9" cy="556.2" r="2.0"/><circle cx="196.8" cy="550" r="2.0"/><circle cx="194.3" cy="557.3" r="2.0"/><circle cx="204.5" cy="554.1" r="2.0"/><circle cx="207.4" cy="544.9" r="2.0"/><circle cx="210.4" cy="545.4" r="2.0"/><circle cx="214" cy="546.4" r="2.0"/><circle cx="215.9" cy="548.3" r="2.0"/><circle cx="216.2" cy="553.7" r="2.0"/><circle cx="226.4" cy="541.3" r="2.0"/><circle cx="225" cy="544.9" r="2.0"/><circle cx="230.1" cy="546.8" r="2.0"/><circle cx="241" cy="553.7" r="2.0"/><circle cx="246.1" cy="545.7" r="2.0"/><circle cx="246.4" cy="552.2" r="2.0"/><circle cx="252.7" cy="548.9" r="2.0"/><circle cx="232.7" cy="557.6" r="2.0"/><circle cx="228.6" cy="560.3" r="2.0"/><circle cx="225" cy="561.4" r="2.0"/><circle cx="253.4" cy="561.4" r="2.0"/><circle cx="162.2" cy="563.9" r="2.0"/><circle cx="170.9" cy="564.3" r="2.0"/><circle cx="184.8" cy="563.2" r="2.0"/><circle cx="211.8" cy="564.3" r="2.0"/><circle cx="242.5" cy="564.3" r="2.0"/><circle cx="247.6" cy="565.4" r="2.0"/><circle cx="309" cy="541" r="2.0"/><circle cx="267.4" cy="546.4" r="2.0"/><circle cx="271.1" cy="549.7" r="2.0"/><circle cx="276.9" cy="549.7" r="2.0"/><circle cx="265.2" cy="554.1" r="2.0"/><circle cx="271.8" cy="556.6" r="2.0"/><circle cx="273.7" cy="556.6" r="2.0"/><circle cx="293.2" cy="554.1" r="2.0"/><circle cx="295.6" cy="558.5" r="2.0"/><circle cx="296.2" cy="561.4" r="2.0"/><circle cx="290" cy="562.4" r="2.0"/><circle cx="307.6" cy="560.5" r="2.0"/><circle cx="313.8" cy="560.5" r="2.0"/><circle cx="338.2" cy="558.5" r="2.0"/><circle cx="348.1" cy="554.1" r="2.0"/><circle cx="348.4" cy="562.4" r="2.0"/><circle cx="351.4" cy="561.7" r="2.0"/><circle cx="265.2" cy="563.9" r="2.0"/><circle cx="311.9" cy="577.5" r="2.0"/><circle cx="339.7" cy="572.7" r="2.0"/><circle cx="334.6" cy="570.2" r="2.0"/><circle cx="284.9" cy="587.3" r="2.0"/><circle cx="286.4" cy="587.7" r="2.0"/><circle cx="293.2" cy="589.7" r="2.0"/><circle cx="298.1" cy="589.2" r="2.0"/><circle cx="325.8" cy="585.8" r="2.0"/><circle cx="330.2" cy="590.9" r="2.0"/><circle cx="290" cy="596.8" r="2.0"/><circle cx="284.9" cy="600" r="2.0"/><circle cx="273.2" cy="602.3" r="2.0"/><circle cx="303.9" cy="599.4" r="2.0"/><circle cx="316" cy="604.8" r="2.0"/><circle cx="388.7" cy="542.7" r="2.0"/><circle cx="385" cy="550.3" r="2.0"/><circle cx="393.4" cy="554.4" r="2.0"/><circle cx="374.1" cy="559.5" r="2.0"/><circle cx="351.2" cy="561.4" r="2.0"/><circle cx="405.5" cy="560.3" r="2.0"/><circle cx="408.4" cy="561" r="2.0"/><circle cx="421.5" cy="563.2" r="2.0"/><circle cx="429.6" cy="562.9" r="2.0"/><circle cx="433.2" cy="562.4" r="2.0"/><circle cx="442.7" cy="558.1" r="2.0"/><circle cx="442" cy="561.7" r="2.0"/><circle cx="395.3" cy="572.7" r="2.0"/><circle cx="417.2" cy="572.7" r="2.0"/><circle cx="431" cy="572.7" r="2.0"/><circle cx="436.1" cy="572.7" r="2.0"/><circle cx="444.9" cy="573.4" r="2.0"/><circle cx="447.8" cy="572.7" r="2.0"/><circle cx="358" cy="580.7" r="2.0"/><circle cx="364.6" cy="578.1" r="2.0"/><circle cx="368.2" cy="577.8" r="2.0"/><circle cx="371.9" cy="577.5" r="2.0"/><circle cx="373.4" cy="577.5" r="2.0"/><circle cx="395.3" cy="579.2" r="2.0"/><circle cx="390.1" cy="582.9" r="2.0"/><circle cx="369" cy="587.3" r="2.0"/><circle cx="442" cy="581.4" r="2.0"/><circle cx="446.4" cy="580.7" r="2.0"/><circle cx="449.3" cy="580.7" r="2.0"/><circle cx="420.1" cy="586.5" r="2.0"/><circle cx="419.8" cy="589.5" r="2.0"/><circle cx="360.2" cy="592.4" r="2.0"/><circle cx="372.6" cy="595.3" r="2.0"/><circle cx="377.7" cy="599.4" r="2.0"/><circle cx="387.7" cy="594.6" r="2.0"/><circle cx="392.8" cy="594.3" r="2.0"/><circle cx="374.8" cy="608.4" r="2.0"/><circle cx="409.1" cy="605.2" r="2.0"/><circle cx="413.1" cy="609.9" r="2.0"/><circle cx="425.2" cy="599.7" r="2.0"/><circle cx="433.9" cy="596.8" r="2.0"/><circle cx="439.1" cy="598.2" r="2.0"/><circle cx="443.4" cy="598.2" r="2.0"/><circle cx="447.8" cy="596.8" r="2.0"/><circle cx="453" cy="554.7" r="2.0"/><circle cx="453.8" cy="562" r="2.0"/><circle cx="456.7" cy="562" r="2.0"/><circle cx="458.9" cy="562" r="2.0"/><circle cx="463.2" cy="562" r="2.0"/><circle cx="470.5" cy="561.7" r="2.0"/><circle cx="486.6" cy="561.7" r="2.0"/><circle cx="491.7" cy="561.7" r="2.0"/><circle cx="496.8" cy="561.7" r="2.0"/><circle cx="499.7" cy="561.7" r="2.0"/><circle cx="504.9" cy="561.7" r="2.0"/><circle cx="523.8" cy="560.3" r="2.0"/><circle cx="527.5" cy="562" r="2.0"/><circle cx="538.4" cy="561.4" r="2.0"/><circle cx="446.5" cy="572.7" r="2.0"/><circle cx="449.4" cy="572.7" r="2.0"/><circle cx="452.3" cy="572.7" r="2.0"/><circle cx="464" cy="571.9" r="2.0"/><circle cx="464" cy="569" r="2.0"/><circle cx="459.6" cy="569" r="2.0"/><circle cx="506.3" cy="573.4" r="2.0"/><circle cx="509.2" cy="572.7" r="2.0"/><circle cx="512.9" cy="572.7" r="2.0"/><circle cx="530.4" cy="571.9" r="2.0"/><circle cx="539.9" cy="572.7" r="2.0"/><circle cx="464" cy="578.5" r="2.0"/><circle cx="476.4" cy="578.1" r="2.0"/><circle cx="544.3" cy="577" r="2.0"/><circle cx="477.4" cy="590.6" r="2.0"/><circle cx="513.6" cy="595" r="2.0"/><circle cx="526.8" cy="593.8" r="2.0"/><circle cx="527.9" cy="596" r="2.0"/><circle cx="448.6" cy="596.8" r="2.0"/><circle cx="471.3" cy="595.3" r="2.0"/><circle cx="477.8" cy="599.4" r="2.0"/><circle cx="484.4" cy="605.5" r="2.0"/><circle cx="542.5" cy="606.2" r="2.0"/><circle cx="556.9" cy="566.2" r="2.0"/><circle cx="561.2" cy="566.2" r="2.0"/><circle cx="540" cy="561.1" r="2.0"/><circle cx="541.1" cy="572.2" r="2.0"/><circle cx="546.4" cy="576.8" r="2.0"/><circle cx="547.4" cy="577.4" r="2.0"/><circle cx="585.5" cy="572.6" r="2.0"/><circle cx="585.5" cy="574.7" r="2.0"/><circle cx="597.2" cy="572.6" r="2.0"/><circle cx="602.9" cy="566.9" r="2.0"/><circle cx="605" cy="572.6" r="2.0"/><circle cx="610.9" cy="567.5" r="2.0"/><circle cx="614.1" cy="567.5" r="2.0"/><circle cx="616.2" cy="567.9" r="2.0"/><circle cx="625.1" cy="572.6" r="2.0"/><circle cx="631" cy="569.6" r="2.0"/><circle cx="634.2" cy="569.6" r="2.0"/><circle cx="636.3" cy="571.1" r="2.0"/><circle cx="638.4" cy="573.2" r="2.0"/><circle cx="658.1" cy="572.6" r="2.0"/><circle cx="575.6" cy="587" r="2.0"/><circle cx="547.4" cy="590.8" r="2.0"/><circle cx="550.6" cy="590.8" r="2.0"/><circle cx="543.2" cy="606.4" r="2.0"/><circle cx="578.5" cy="610.7" r="2.0"/><circle cx="602.9" cy="606.4" r="2.0"/><circle cx="560.1" cy="614.5" r="2.0"/><circle cx="119.1" cy="612.8" r="2.0"/><circle cx="130.8" cy="613.1" r="2.0"/><circle cx="130.8" cy="618.4" r="2.0"/><circle cx="150.7" cy="619.9" r="2.0"/><circle cx="155.1" cy="620.4" r="2.0"/><circle cx="162.4" cy="614.6" r="2.0"/><circle cx="163.2" cy="619" r="2.0"/><circle cx="171.1" cy="619.9" r="2.0"/><circle cx="174" cy="620.4" r="2.0"/><circle cx="178.4" cy="621" r="2.0"/><circle cx="184.2" cy="616.1" r="2.0"/><circle cx="185.7" cy="619" r="2.0"/><circle cx="193" cy="616.9" r="2.0"/><circle cx="194.5" cy="619.3" r="2.0"/><circle cx="201.8" cy="619.9" r="2.0"/><circle cx="206.1" cy="621" r="2.0"/><circle cx="209.1" cy="621" r="2.0"/><circle cx="207.6" cy="616.9" r="2.0"/><circle cx="213.4" cy="616.1" r="2.0"/><circle cx="214.9" cy="619" r="2.0"/><circle cx="219.3" cy="619.9" r="2.0"/><circle cx="229.5" cy="619" r="2.0"/><circle cx="232.4" cy="618.1" r="2.0"/><circle cx="239.7" cy="608.8" r="2.0"/><circle cx="241.2" cy="611.7" r="2.0"/><circle cx="248.5" cy="610.2" r="2.0"/><circle cx="244.7" cy="616.9" r="2.0"/><circle cx="249.9" cy="621" r="2.0"/><circle cx="254.3" cy="620.4" r="2.0"/><circle cx="257.2" cy="621.9" r="2.0"/><circle cx="240" cy="608.4" r="2.0"/><circle cx="240.3" cy="611.1" r="2.0"/><circle cx="248.3" cy="609.9" r="2.0"/><circle cx="162.9" cy="614.3" r="2.0"/><circle cx="185.5" cy="614.3" r="2.0"/><circle cx="220.6" cy="596.8" r="2.0"/><circle cx="225" cy="595" r="2.0"/><circle cx="219.9" cy="598.5" r="2.0"/><circle cx="193" cy="634.2" r="2.0"/><circle cx="211.1" cy="634.5" r="2.0"/><circle cx="232.4" cy="635" r="2.0"/><circle cx="236.8" cy="638" r="2.0"/><circle cx="273.1" cy="602.3" r="2.0"/><circle cx="284.8" cy="600.9" r="2.0"/><circle cx="303.8" cy="600" r="2.0"/><circle cx="316.1" cy="605" r="2.0"/><circle cx="378.2" cy="600" r="2.0"/><circle cx="374.7" cy="608.8" r="2.0"/><circle cx="265.8" cy="616.9" r="2.0"/><circle cx="267.3" cy="622.8" r="2.0"/><circle cx="273.1" cy="620.4" r="2.0"/><circle cx="274.6" cy="619" r="2.0"/><circle cx="274" cy="615.2" r="2.0"/><circle cx="287.7" cy="619.6" r="2.0"/><circle cx="290.7" cy="619" r="2.0"/><circle cx="292.1" cy="618.4" r="2.0"/><circle cx="298" cy="616.9" r="2.0"/><circle cx="303.8" cy="618.1" r="2.0"/><circle cx="312.6" cy="616.9" r="2.0"/><circle cx="318.4" cy="616.6" r="2.0"/><circle cx="321.9" cy="616.4" r="2.0"/><circle cx="327.7" cy="615.2" r="2.0"/><circle cx="331.5" cy="616.1" r="2.0"/><circle cx="337.4" cy="614" r="2.0"/><circle cx="339.4" cy="614.6" r="2.0"/><circle cx="349.9" cy="616.6" r="2.0"/><circle cx="367.4" cy="628.6" r="2.0"/><circle cx="394.9" cy="621.9" r="2.0"/><circle cx="408.9" cy="605.3" r="2.0"/><circle cx="413.3" cy="609.3" r="2.0"/><circle cx="448.3" cy="631.2" r="2.0"/><circle cx="452.7" cy="629.2" r="2.0"/><circle cx="484.6" cy="605.7" r="2.0"/><circle cx="543" cy="606" r="2.0"/><circle cx="560.1" cy="616.8" r="2.0"/><circle cx="578.6" cy="610.7" r="2.0"/><circle cx="602.7" cy="606" r="2.0"/><circle cx="174" cy="670.1" r="2.0"/><circle cx="176" cy="670.4" r="2.0"/><circle cx="178.4" cy="670.7" r="2.0"/><circle cx="184.2" cy="669.5" r="2.0"/><circle cx="194.5" cy="667.2" r="2.0"/><circle cx="201.8" cy="670.1" r="2.0"/><circle cx="204" cy="670.5" r="2.0"/><circle cx="206.1" cy="670.9" r="2.0"/><circle cx="209.1" cy="670.9" r="2.0"/><circle cx="219.3" cy="668.6" r="2.0"/><circle cx="219.3" cy="670.1" r="2.0"/><circle cx="231" cy="668" r="2.0"/><circle cx="249.4" cy="663.4" r="2.0"/><circle cx="254.3" cy="664.8" r="2.0"/><circle cx="318.4" cy="653.1" r="2.0"/><circle cx="343.8" cy="651.1" r="2.0"/><circle cx="352" cy="650.2" r="2.0"/><circle cx="286.9" cy="659.3" r="2.0"/><circle cx="151.1" cy="719.6" r="2.0"/><circle cx="154" cy="720.2" r="2.0"/><circle cx="161" cy="718.2" r="2.0"/><circle cx="170.7" cy="719.3" r="2.0"/><circle cx="175" cy="720.5" r="2.0"/><circle cx="177.4" cy="720.8" r="2.0"/><circle cx="183.8" cy="716.7" r="2.0"/><circle cx="186.1" cy="718.8" r="2.0"/><circle cx="203.6" cy="715.3" r="2.0"/><circle cx="221.8" cy="712.3" r="2.0"/><circle cx="273.1" cy="699.3" r="2.0"/><circle cx="290.1" cy="694.9" r="2.0"/><circle cx="564.8" cy="694" r="2.0"/><circle cx="493.8" cy="714.7" r="2.0"/><circle cx="214.5" cy="745.6" r="2.0"/><circle cx="232.3" cy="750" r="2.0"/><circle cx="209.5" cy="754.4" r="2.0"/><circle cx="189.1" cy="758.8" r="2.0"/><circle cx="191.1" cy="761.7" r="2.0"/><circle cx="176.5" cy="764.9" r="2.0"/><circle cx="243.6" cy="785.9" r="2.0"/><circle cx="246.6" cy="785.9" r="2.0"/><circle cx="213.6" cy="796.4" r="2.0"/><circle cx="291.2" cy="810.7" r="2.0"/><circle cx="248" cy="817.4" r="2.0"/><circle cx="241.6" cy="828" r="2.0"/><circle cx="551.3" cy="726.1" r="2.0"/><circle cx="519.7" cy="736" r="2.0"/><circle cx="435.7" cy="764" r="2.0"/><circle cx="513.5" cy="797.6" r="2.0"/><circle cx="390.1" cy="812.7" r="2.0"/><circle cx="228" cy="832.7" r="2.0"/><circle cx="268.2" cy="849.3" r="2.0"/><circle cx="219.2" cy="876.9" r="2.0"/><circle cx="301.1" cy="870.4" r="2.0"/><circle cx="303.3" cy="870.4" r="2.0"/><circle cx="305.5" cy="870.4" r="2.0"/><circle cx="307.7" cy="870.4" r="2.0"/><circle cx="359.8" cy="859.4" r="2.0"/><circle cx="417.2" cy="884.4" r="2.0"/><circle cx="384.3" cy="901" r="2.0"/><circle cx="351.9" cy="919" r="2.0"/><circle cx="412" cy="566.6" r="2.0"/><circle cx="413" cy="566.6" r="2.0"/><circle cx="414" cy="566.6" r="2.0"/><circle cx="415" cy="566.6" r="2.0"/><circle cx="416" cy="566.6" r="2.0"/><circle cx="417" cy="566.6" r="2.0"/><circle cx="418" cy="566.6" r="2.0"/><circle cx="419" cy="566.6" r="2.0"/><circle cx="420" cy="566.6" r="2.0"/><circle cx="421" cy="566.6" r="2.0"/><circle cx="422" cy="566.6" r="2.0"/><circle cx="423" cy="566.6" r="2.0"/><circle cx="424.1" cy="566.6" r="2.0"/><circle cx="425.1" cy="566.6" r="2.0"/><circle cx="426.1" cy="566.6" r="2.0"/><circle cx="427.1" cy="566.6" r="2.0"/><circle cx="428.1" cy="566.6" r="2.0"/><circle cx="429.1" cy="566.6" r="2.0"/><circle cx="430.1" cy="566.6" r="2.0"/><circle cx="431.1" cy="566.6" r="2.0"/><circle cx="432.1" cy="566.6" r="2.0"/><circle cx="433.1" cy="566.6" r="2.0"/><circle cx="434.1" cy="566.6" r="2.0"/><circle cx="435.1" cy="566.6" r="2.0"/><circle cx="436.1" cy="566.6" r="2.0"/><circle cx="437.1" cy="566.6" r="2.0"/><circle cx="438.1" cy="566.6" r="2.0"/><circle cx="439.1" cy="566.6" r="2.0"/><circle cx="440.1" cy="566.6" r="2.0"/><circle cx="441.1" cy="566.6" r="2.0"/><circle cx="442.1" cy="566.6" r="2.0"/><circle cx="443.1" cy="566.6" r="2.0"/><circle cx="444.1" cy="566.6" r="2.0"/><circle cx="445.1" cy="566.6" r="2.0"/><circle cx="446.1" cy="566.6" r="2.0"/><circle cx="447.1" cy="566.6" r="2.0"/><circle cx="448.2" cy="566.6" r="2.0"/><circle cx="449.2" cy="566.6" r="2.0"/><circle cx="450.2" cy="566.6" r="2.0"/><circle cx="451.2" cy="566.6" r="2.0"/><circle cx="452.2" cy="566.6" r="2.0"/><circle cx="453.2" cy="566.6" r="2.0"/><circle cx="454.2" cy="566.6" r="2.0"/><circle cx="455.2" cy="566.6" r="2.0"/><circle cx="456.2" cy="566.6" r="2.0"/><circle cx="457.2" cy="566.6" r="2.0"/><circle cx="458.2" cy="566.6" r="2.0"/><circle cx="459.2" cy="566.6" r="2.0"/><circle cx="460.2" cy="566.6" r="2.0"/><circle cx="461.2" cy="566.6" r="2.0"/><circle cx="462.2" cy="566.6" r="2.0"/><circle cx="463.2" cy="566.6" r="2.0"/><circle cx="464.2" cy="566.6" r="2.0"/><circle cx="465.2" cy="566.6" r="2.0"/><circle cx="466.2" cy="566.6" r="2.0"/><circle cx="467.2" cy="566.6" r="2.0"/><circle cx="468.2" cy="566.6" r="2.0"/><circle cx="469.2" cy="566.6" r="2.0"/><circle cx="470.2" cy="566.6" r="2.0"/><circle cx="471.3" cy="566.6" r="2.0"/><circle cx="472.3" cy="566.6" r="2.0"/><circle cx="473.3" cy="566.6" r="2.0"/><circle cx="474.3" cy="566.6" r="2.0"/><circle cx="475.3" cy="566.6" r="2.0"/><circle cx="476.3" cy="566.6" r="2.0"/><circle cx="477.3" cy="566.6" r="2.0"/><circle cx="478.3" cy="566.6" r="2.0"/><circle cx="479.3" cy="566.6" r="2.0"/><circle cx="480.3" cy="566.6" r="2.0"/><circle cx="481.3" cy="566.6" r="2.0"/><circle cx="482.3" cy="566.6" r="2.0"/><circle cx="483.3" cy="566.6" r="2.0"/><circle cx="484.3" cy="566.6" r="2.0"/><circle cx="485.3" cy="566.6" r="2.0"/><circle cx="486.3" cy="566.6" r="2.0"/><circle cx="487.3" cy="566.6" r="2.0"/><circle cx="488.3" cy="566.6" r="2.0"/><circle cx="489.3" cy="566.6" r="2.0"/><circle cx="490.3" cy="566.6" r="2.0"/><circle cx="491.3" cy="566.6" r="2.0"/><circle cx="492.3" cy="566.6" r="2.0"/><circle cx="493.3" cy="566.6" r="2.0"/><circle cx="494.3" cy="566.6" r="2.0"/><circle cx="495.4" cy="566.6" r="2.0"/><circle cx="496.4" cy="566.6" r="2.0"/><circle cx="497.4" cy="566.6" r="2.0"/><circle cx="498.4" cy="566.6" r="2.0"/><circle cx="499.4" cy="566.6" r="2.0"/><circle cx="500.4" cy="566.6" r="2.0"/><circle cx="501.4" cy="566.6" r="2.0"/><circle cx="502.4" cy="566.6" r="2.0"/><circle cx="503.4" cy="566.6" r="2.0"/><circle cx="504.4" cy="566.6" r="2.0"/><circle cx="505.4" cy="566.6" r="2.0"/><circle cx="506.4" cy="566.6" r="2.0"/><circle cx="507.4" cy="566.6" r="2.0"/><circle cx="508.4" cy="566.6" r="2.0"/><circle cx="509.4" cy="566.6" r="2.0"/><circle cx="510.4" cy="566.6" r="2.0"/><circle cx="511.4" cy="566.6" r="2.0"/><circle cx="512.4" cy="566.6" r="2.0"/><circle cx="513.4" cy="566.6" r="2.0"/><circle cx="514.4" cy="566.6" r="2.0"/><circle cx="515.4" cy="566.6" r="2.0"/><circle cx="516.4" cy="566.6" r="2.0"/><circle cx="517.4" cy="566.6" r="2.0"/><circle cx="518.5" cy="566.6" r="2.0"/><circle cx="519.5" cy="566.6" r="2.0"/><circle cx="520.5" cy="566.6" r="2.0"/><circle cx="521.5" cy="566.6" r="2.0"/><circle cx="522.5" cy="566.6" r="2.0"/><circle cx="523.5" cy="566.6" r="2.0"/><circle cx="524.5" cy="566.6" r="2.0"/><circle cx="525.5" cy="566.6" r="2.0"/><circle cx="526.5" cy="566.6" r="2.0"/><circle cx="527.5" cy="566.6" r="2.0"/><circle cx="528.5" cy="566.6" r="2.0"/><circle cx="529.5" cy="566.6" r="2.0"/><circle cx="530.5" cy="566.6" r="2.0"/><circle cx="531.5" cy="566.6" r="2.0"/><circle cx="532.5" cy="566.6" r="2.0"/><circle cx="533.5" cy="566.6" r="2.0"/><circle cx="534.5" cy="566.6" r="2.0"/><circle cx="535.5" cy="566.6" r="2.0"/><circle cx="536.5" cy="566.6" r="2.0"/><circle cx="537.5" cy="566.6" r="2.0"/><circle cx="538.5" cy="566.6" r="2.0"/><circle cx="539.5" cy="566.6" r="2.0"/><circle cx="540.5" cy="566.6" r="2.0"/><circle cx="541.5" cy="566.6" r="2.0"/><circle cx="542.6" cy="566.6" r="2.0"/><circle cx="543.6" cy="566.6" r="2.0"/><circle cx="544.6" cy="566.6" r="2.0"/><circle cx="545.6" cy="566.6" r="2.0"/><circle cx="546.6" cy="566.6" r="2.0"/><circle cx="547.6" cy="566.6" r="2.0"/><circle cx="548.6" cy="566.6" r="2.0"/><circle cx="549.6" cy="566.6" r="2.0"/><circle cx="550.6" cy="566.6" r="2.0"/><circle cx="551.6" cy="566.6" r="2.0"/><circle cx="552.6" cy="566.6" r="2.0"/><circle cx="553.6" cy="566.6" r="2.0"/><circle cx="350" cy="567.9" r="2.0"/><circle cx="351.5" cy="567.9" r="2.0"/><circle cx="353.1" cy="567.9" r="2.0"/><circle cx="354.6" cy="567.9" r="2.0"/><circle cx="356.1" cy="567.9" r="2.0"/><circle cx="357.6" cy="567.9" r="2.0"/><circle cx="359.1" cy="567.9" r="2.0"/><circle cx="360.7" cy="567.8" r="2.0"/><circle cx="362.2" cy="567.8" r="2.0"/><circle cx="363.7" cy="567.8" r="2.0"/><circle cx="365.2" cy="567.8" r="2.0"/><circle cx="366.8" cy="567.8" r="2.0"/><circle cx="368.3" cy="567.8" r="2.0"/><circle cx="369.8" cy="567.8" r="2.0"/><circle cx="371.4" cy="567.8" r="2.0"/><circle cx="372.9" cy="567.8" r="2.0"/><circle cx="374.4" cy="567.8" r="2.0"/><circle cx="375.9" cy="567.8" r="2.0"/><circle cx="377.4" cy="567.8" r="2.0"/><circle cx="379" cy="567.8" r="2.0"/><circle cx="380.5" cy="567.8" r="2.0"/><circle cx="382" cy="567.7" r="2.0"/><circle cx="383.6" cy="567.7" r="2.0"/><circle cx="385.1" cy="567.7" r="2.0"/><circle cx="386.6" cy="567.7" r="2.0"/><circle cx="388.1" cy="567.7" r="2.0"/><circle cx="389.6" cy="567.7" r="2.0"/><circle cx="391.2" cy="567.7" r="2.0"/><circle cx="392.7" cy="567.7" r="2.0"/><circle cx="394.2" cy="567.7" r="2.0"/><circle cx="395.8" cy="567.7" r="2.0"/><circle cx="397.3" cy="567.7" r="2.0"/><circle cx="398.8" cy="567.7" r="2.0"/><circle cx="400.3" cy="567.7" r="2.0"/><circle cx="401.9" cy="567.6" r="2.0"/><circle cx="403.4" cy="567.6" r="2.0"/><circle cx="404.9" cy="567.6" r="2.0"/><circle cx="406.4" cy="567.6" r="2.0"/><circle cx="407.9" cy="567.6" r="2.0"/><circle cx="409.5" cy="567.6" r="2.0"/><circle cx="411" cy="567.6" r="2.0"/><circle cx="350" cy="569.3" r="2.0"/><circle cx="354.7" cy="569.3" r="2.0"/><circle cx="359.4" cy="569.3" r="2.0"/><circle cx="364.1" cy="569.3" r="2.0"/><circle cx="368.8" cy="569.3" r="2.0"/><circle cx="373.5" cy="569.3" r="2.0"/><circle cx="378.2" cy="569.3" r="2.0"/><circle cx="382.8" cy="569.3" r="2.0"/><circle cx="387.5" cy="569.3" r="2.0"/><circle cx="392.2" cy="569.3" r="2.0"/><circle cx="396.9" cy="569.3" r="2.0"/><circle cx="401.6" cy="569.3" r="2.0"/><circle cx="406.3" cy="569.3" r="2.0"/><circle cx="411" cy="569.3" r="2.0"/><circle cx="89" cy="566.2" r="2.0"/><circle cx="91.5" cy="566.4" r="2.0"/><circle cx="93.9" cy="566.7" r="2.0"/><circle cx="96.4" cy="566.9" r="2.0"/><circle cx="98.8" cy="567.2" r="2.0"/><circle cx="101.3" cy="567.4" r="2.0"/><circle cx="103.8" cy="567.7" r="2.0"/><circle cx="106.2" cy="567.9" r="2.0"/><circle cx="108.7" cy="568.2" r="2.0"/><circle cx="111.2" cy="568.4" r="2.0"/><circle cx="113.6" cy="568.7" r="2.0"/><circle cx="116.1" cy="568.9" r="2.0"/><circle cx="118.5" cy="569.2" r="2.0"/><circle cx="121" cy="569.4" r="2.0"/><circle cx="123.5" cy="569.6" r="2.0"/><circle cx="125.9" cy="569.9" r="2.0"/><circle cx="128.4" cy="570.1" r="2.0"/><circle cx="130.8" cy="570.4" r="2.0"/><circle cx="133.3" cy="570.6" r="2.0"/><circle cx="135.8" cy="570.9" r="2.0"/><circle cx="138.2" cy="571.1" r="2.0"/><circle cx="140.7" cy="571.4" r="2.0"/><circle cx="143.2" cy="571.6" r="2.0"/><circle cx="145.6" cy="571.9" r="2.0"/><circle cx="148.1" cy="572.1" r="2.0"/><circle cx="150.5" cy="572.4" r="2.0"/><circle cx="153" cy="572.6" r="2.0"/><circle cx="92" cy="568.2" r="2.0"/><circle cx="95" cy="568.5" r="2.0"/><circle cx="98.1" cy="568.8" r="2.0"/><circle cx="101.2" cy="569" r="2.0"/><circle cx="104.2" cy="569.3" r="2.0"/><circle cx="107.2" cy="569.6" r="2.0"/><circle cx="110.3" cy="569.9" r="2.0"/><circle cx="113.3" cy="570.2" r="2.0"/><circle cx="116.4" cy="570.4" r="2.0"/><circle cx="119.5" cy="570.7" r="2.0"/><circle cx="122.5" cy="571" r="2.0"/><circle cx="125.6" cy="571.3" r="2.0"/><circle cx="128.6" cy="571.6" r="2.0"/><circle cx="131.7" cy="571.8" r="2.0"/><circle cx="134.7" cy="572.1" r="2.0"/><circle cx="137.8" cy="572.4" r="2.0"/><circle cx="140.8" cy="572.7" r="2.0"/><circle cx="143.8" cy="573" r="2.0"/><circle cx="146.9" cy="573.2" r="2.0"/><circle cx="149.9" cy="573.5" r="2.0"/><circle cx="153" cy="573.8" r="2.0"/><circle cx="325.1" cy="603.8" r="2.0"/><circle cx="327.8" cy="603.5" r="2.0"/><circle cx="330.5" cy="603.2" r="2.0"/><circle cx="333.2" cy="602.9" r="2.0"/><circle cx="335.9" cy="602.5" r="2.0"/><circle cx="338.6" cy="602.2" r="2.0"/><circle cx="341.3" cy="601.9" r="2.0"/><circle cx="344" cy="601.6" r="2.0"/><circle cx="346.7" cy="601.3" r="2.0"/><circle cx="349.4" cy="601" r="2.0"/><circle cx="352.1" cy="600.6" r="2.0"/><circle cx="354.8" cy="600.3" r="2.0"/><circle cx="357.5" cy="600" r="2.0"/><circle cx="360.2" cy="599.7" r="2.0"/><circle cx="350" cy="600.6" r="2.0"/><circle cx="352" cy="600.4" r="2.0"/><circle cx="354.1" cy="600.2" r="2.0"/><circle cx="356.1" cy="600.1" r="2.0"/><circle cx="358.2" cy="599.9" r="2.0"/><circle cx="360.2" cy="599.7" r="2.0"/><circle cx="417.9" cy="606.2" r="2.0"/><circle cx="419.4" cy="606" r="2.0"/><circle cx="420.9" cy="605.8" r="2.0"/><circle cx="422.5" cy="605.6" r="2.0"/><circle cx="424" cy="605.4" r="2.0"/><circle cx="425.5" cy="605.2" r="2.0"/><circle cx="427" cy="605" r="2.0"/><circle cx="428.6" cy="604.8" r="2.0"/><circle cx="430.1" cy="604.6" r="2.0"/><circle cx="431.6" cy="604.4" r="2.0"/><circle cx="433.1" cy="604.2" r="2.0"/><circle cx="434.6" cy="604" r="2.0"/><circle cx="436.2" cy="603.8" r="2.0"/><circle cx="437.7" cy="603.6" r="2.0"/><circle cx="439.2" cy="603.4" r="2.0"/><circle cx="440.7" cy="603.2" r="2.0"/><circle cx="442.3" cy="603" r="2.0"/><circle cx="443.8" cy="602.8" r="2.0"/><circle cx="445.3" cy="602.5" r="2.0"/><circle cx="446.8" cy="602.3" r="2.0"/><circle cx="448.3" cy="602.1" r="2.0"/><circle cx="449.9" cy="601.9" r="2.0"/><circle cx="451.4" cy="601.7" r="2.0"/><circle cx="452.9" cy="601.5" r="2.0"/><circle cx="454.4" cy="601.3" r="2.0"/><circle cx="456" cy="601.1" r="2.0"/><circle cx="457.5" cy="600.9" r="2.0"/><circle cx="459" cy="600.7" r="2.0"/><circle cx="460.5" cy="600.5" r="2.0"/><circle cx="462" cy="600.3" r="2.0"/><circle cx="463.6" cy="600.1" r="2.0"/><circle cx="465.1" cy="599.9" r="2.0"/><circle cx="466.6" cy="599.7" r="2.0"/><circle cx="468.1" cy="599.5" r="2.0"/><circle cx="469.7" cy="599.3" r="2.0"/><circle cx="471.2" cy="599.1" r="2.0"/><circle cx="472.7" cy="598.9" r="2.0"/><circle cx="420" cy="604.8" r="2.0"/><circle cx="422" cy="604.5" r="2.0"/><circle cx="424.1" cy="604.3" r="2.0"/><circle cx="426.1" cy="604" r="2.0"/><circle cx="428.1" cy="603.7" r="2.0"/><circle cx="430.1" cy="603.5" r="2.0"/><circle cx="432.2" cy="603.2" r="2.0"/><circle cx="434.2" cy="602.9" r="2.0"/><circle cx="436.2" cy="602.6" r="2.0"/><circle cx="438.2" cy="602.4" r="2.0"/><circle cx="440.3" cy="602.1" r="2.0"/><circle cx="442.3" cy="601.8" r="2.0"/><circle cx="444.3" cy="601.6" r="2.0"/><circle cx="446.4" cy="601.3" r="2.0"/><circle cx="448.4" cy="601" r="2.0"/><circle cx="450.4" cy="600.8" r="2.0"/><circle cx="452.4" cy="600.5" r="2.0"/><circle cx="454.5" cy="600.2" r="2.0"/><circle cx="456.5" cy="600" r="2.0"/><circle cx="458.5" cy="599.7" r="2.0"/><circle cx="460.5" cy="599.4" r="2.0"/><circle cx="462.6" cy="599.1" r="2.0"/><circle cx="464.6" cy="598.9" r="2.0"/><circle cx="466.6" cy="598.6" r="2.0"/><circle cx="468.6" cy="598.3" r="2.0"/><circle cx="470.7" cy="598.1" r="2.0"/><circle cx="472.7" cy="597.8" r="2.0"/><circle cx="445" cy="602.6" r="2.0"/><circle cx="446.5" cy="602.4" r="2.0"/><circle cx="448.1" cy="602.2" r="2.0"/><circle cx="449.6" cy="602" r="2.0"/><circle cx="451.2" cy="601.8" r="2.0"/><circle cx="452.7" cy="601.6" r="2.0"/><circle cx="454.2" cy="601.4" r="2.0"/><circle cx="455.8" cy="601.2" r="2.0"/><circle cx="457.3" cy="601" r="2.0"/><circle cx="458.9" cy="600.8" r="2.0"/><circle cx="460.4" cy="600.5" r="2.0"/><circle cx="461.9" cy="600.3" r="2.0"/><circle cx="463.5" cy="600.1" r="2.0"/><circle cx="465" cy="599.9" r="2.0"/><circle cx="466.5" cy="599.7" r="2.0"/><circle cx="468.1" cy="599.5" r="2.0"/><circle cx="469.6" cy="599.3" r="2.0"/><circle cx="471.2" cy="599.1" r="2.0"/><circle cx="472.7" cy="598.9" r="2.0"/><circle cx="445" cy="581.4" r="2.0"/><circle cx="446.6" cy="581" r="2.0"/><circle cx="448.2" cy="580.7" r="2.0"/><circle cx="449.8" cy="580.3" r="2.0"/><circle cx="451.4" cy="580" r="2.0"/><circle cx="453.1" cy="579.6" r="2.0"/><circle cx="454.7" cy="579.2" r="2.0"/><circle cx="456.3" cy="578.9" r="2.0"/><circle cx="457.9" cy="578.5" r="2.0"/><circle cx="459.5" cy="578.2" r="2.0"/><circle cx="461.1" cy="577.8" r="2.0"/><circle cx="447" cy="579.9" r="2.0"/><circle cx="449.1" cy="579.5" r="2.0"/><circle cx="451.3" cy="579" r="2.0"/><circle cx="453.4" cy="578.6" r="2.0"/><circle cx="455.6" cy="578.1" r="2.0"/><circle cx="457.7" cy="577.7" r="2.0"/><circle cx="459.9" cy="577.2" r="2.0"/><circle cx="462" cy="576.8" r="2.0"/><circle cx="607.7" cy="582.3" r="2.0"/><circle cx="609.2" cy="582" r="2.0"/><circle cx="610.8" cy="581.7" r="2.0"/><circle cx="612.3" cy="581.4" r="2.0"/><circle cx="613.8" cy="581.1" r="2.0"/><circle cx="615.3" cy="580.8" r="2.0"/><circle cx="616.9" cy="580.5" r="2.0"/><circle cx="618.4" cy="580.2" r="2.0"/><circle cx="619.9" cy="579.8" r="2.0"/><circle cx="621.4" cy="579.5" r="2.0"/><circle cx="623" cy="579.2" r="2.0"/><circle cx="624.5" cy="578.9" r="2.0"/><circle cx="626" cy="578.6" r="2.0"/><circle cx="627.5" cy="578.3" r="2.0"/><circle cx="629.1" cy="578" r="2.0"/><circle cx="630.6" cy="577.7" r="2.0"/><circle cx="632.1" cy="577.4" r="2.0"/><circle cx="609" cy="581" r="2.0"/><circle cx="611.1" cy="580.6" r="2.0"/><circle cx="613.2" cy="580.1" r="2.0"/><circle cx="615.3" cy="579.7" r="2.0"/><circle cx="617.4" cy="579.3" r="2.0"/><circle cx="619.5" cy="578.9" r="2.0"/><circle cx="621.6" cy="578.4" r="2.0"/><circle cx="623.7" cy="578" r="2.0"/><circle cx="625.8" cy="577.6" r="2.0"/><circle cx="627.9" cy="577.2" r="2.0"/><circle cx="630" cy="576.7" r="2.0"/><circle cx="632.1" cy="576.3" r="2.0"/><circle cx="160.8" cy="569.5" r="2.0"/><circle cx="159.6" cy="571.4" r="2.0"/><circle cx="163.1" cy="569.1" r="2.0"/><circle cx="162.4" cy="571.3" r="2.0"/><circle cx="167.3" cy="570.4" r="2.0"/><circle cx="166.6" cy="572.5" r="2.0"/><circle cx="169.6" cy="570.3" r="2.0"/><circle cx="170" cy="571.4" r="2.0"/><circle cx="172.6" cy="569.6" r="2.0"/><circle cx="171" cy="571" r="2.0"/><circle cx="174.2" cy="569.5" r="2.0"/><circle cx="173.8" cy="571.3" r="2.0"/><circle cx="176.2" cy="569.3" r="2.0"/><circle cx="177.1" cy="571" r="2.0"/><circle cx="179.3" cy="570.2" r="2.0"/><circle cx="178.1" cy="572.7" r="2.0"/><circle cx="182.3" cy="570.3" r="2.0"/><circle cx="181.5" cy="571.7" r="2.0"/><circle cx="184" cy="570.5" r="2.0"/><circle cx="184.4" cy="571.6" r="2.0"/><circle cx="186.4" cy="569.2" r="2.0"/><circle cx="185.7" cy="571.2" r="2.0"/><circle cx="189.4" cy="569.2" r="2.0"/><circle cx="189.6" cy="571.4" r="2.0"/><circle cx="200.5" cy="569.6" r="2.0"/><circle cx="200.3" cy="571.7" r="2.0"/><circle cx="204" cy="570.3" r="2.0"/><circle cx="203.8" cy="572.1" r="2.0"/><circle cx="206.2" cy="570.4" r="2.0"/><circle cx="205.6" cy="572.3" r="2.0"/><circle cx="207" cy="570" r="2.0"/><circle cx="207.7" cy="572.4" r="2.0"/><circle cx="210.4" cy="569.2" r="2.0"/><circle cx="209.3" cy="572.7" r="2.0"/><circle cx="211.7" cy="569.5" r="2.0"/><circle cx="212.1" cy="571.5" r="2.0"/><circle cx="215.9" cy="570.5" r="2.0"/><circle cx="215.1" cy="572.2" r="2.0"/><circle cx="217.4" cy="569.7" r="2.0"/><circle cx="217.6" cy="571.3" r="2.0"/><circle cx="219.5" cy="569.1" r="2.0"/><circle cx="220.8" cy="571.9" r="2.0"/><circle cx="221.9" cy="570.3" r="2.0"/><circle cx="223.3" cy="571.8" r="2.0"/><circle cx="226.6" cy="569" r="2.0"/><circle cx="226.5" cy="571.6" r="2.0"/><circle cx="228.8" cy="569.1" r="2.0"/><circle cx="229.1" cy="572" r="2.0"/><circle cx="232.5" cy="570" r="2.0"/><circle cx="231.6" cy="571.7" r="2.0"/><circle cx="234.1" cy="569.4" r="2.0"/><circle cx="233.8" cy="571.1" r="2.0"/><circle cx="235.5" cy="570.4" r="2.0"/><circle cx="235.2" cy="571.9" r="2.0"/><circle cx="238.4" cy="570.3" r="2.0"/><circle cx="237.7" cy="571.5" r="2.0"/><circle cx="240" cy="569.4" r="2.0"/><circle cx="240.4" cy="572.7" r="2.0"/><circle cx="243.4" cy="570.3" r="2.0"/><circle cx="241.9" cy="571.1" r="2.0"/><circle cx="248" cy="570.3" r="2.0"/><circle cx="247.6" cy="572.1" r="2.0"/><circle cx="249" cy="569.4" r="2.0"/><circle cx="250.7" cy="572.5" r="2.0"/><circle cx="252.8" cy="570.5" r="2.0"/><circle cx="251.7" cy="571.2" r="2.0"/><circle cx="253.9" cy="569.6" r="2.0"/><circle cx="254.8" cy="572.7" r="2.0"/><circle cx="257.2" cy="569.9" r="2.0"/><circle cx="257.3" cy="571.8" r="2.0"/><circle cx="259.2" cy="568.8" r="2.0"/><circle cx="259.6" cy="571.4" r="2.0"/><circle cx="262.2" cy="569.9" r="2.0"/><circle cx="261" cy="571.2" r="2.0"/><circle cx="263.3" cy="569.8" r="2.0"/><circle cx="264.1" cy="571.2" r="2.0"/><circle cx="265.9" cy="568.3" r="2.0"/><circle cx="266.8" cy="570.5" r="2.0"/><circle cx="268.5" cy="568.5" r="2.0"/><circle cx="268.1" cy="570.3" r="2.0"/><circle cx="271.2" cy="569.1" r="2.0"/><circle cx="271.6" cy="571.4" r="2.0"/><circle cx="273.6" cy="567.8" r="2.0"/><circle cx="273.1" cy="571.5" r="2.0"/><circle cx="276.3" cy="568" r="2.0"/><circle cx="275" cy="570.7" r="2.0"/><circle cx="278.5" cy="568.2" r="2.0"/><circle cx="277.8" cy="571" r="2.0"/><circle cx="283.5" cy="567.8" r="2.0"/><circle cx="281.9" cy="570.4" r="2.0"/><circle cx="284.9" cy="568.6" r="2.0"/><circle cx="284.5" cy="571.2" r="2.0"/><circle cx="287.7" cy="568.3" r="2.0"/><circle cx="286.8" cy="571.5" r="2.0"/><circle cx="289.3" cy="568.9" r="2.0"/><circle cx="289.1" cy="570.2" r="2.0"/><circle cx="292.4" cy="567.9" r="2.0"/><circle cx="292.7" cy="570.7" r="2.0"/><circle cx="296.7" cy="567.8" r="2.0"/><circle cx="297.2" cy="571" r="2.0"/><circle cx="300.4" cy="567.7" r="2.0"/><circle cx="299.4" cy="570.2" r="2.0"/><circle cx="302.8" cy="567.7" r="2.0"/><circle cx="301.1" cy="569.9" r="2.0"/><circle cx="304" cy="569" r="2.0"/><circle cx="304.9" cy="571.1" r="2.0"/><circle cx="307.4" cy="569.1" r="2.0"/><circle cx="306.2" cy="570.1" r="2.0"/><circle cx="309.6" cy="568.7" r="2.0"/><circle cx="308" cy="571" r="2.0"/><circle cx="310.9" cy="568.1" r="2.0"/><circle cx="310.8" cy="570.1" r="2.0"/><circle cx="312.5" cy="567.9" r="2.0"/><circle cx="313.1" cy="571.5" r="2.0"/><circle cx="315" cy="569.1" r="2.0"/><circle cx="315.2" cy="570.4" r="2.0"/><circle cx="318.6" cy="568.9" r="2.0"/><circle cx="317.9" cy="569.9" r="2.0"/><circle cx="320.3" cy="568.1" r="2.0"/><circle cx="321.1" cy="570.1" r="2.0"/><circle cx="322.4" cy="569" r="2.0"/><circle cx="321.8" cy="570.5" r="2.0"/><circle cx="327.1" cy="568.8" r="2.0"/><circle cx="325.7" cy="569.9" r="2.0"/><circle cx="328" cy="569.1" r="2.0"/><circle cx="328.4" cy="571.1" r="2.0"/><circle cx="331.8" cy="568" r="2.0"/><circle cx="330.7" cy="571.5" r="2.0"/><circle cx="333.6" cy="567.9" r="2.0"/><circle cx="333.8" cy="570.4" r="2.0"/><circle cx="335.3" cy="567.4" r="2.0"/><circle cx="336.2" cy="571.4" r="2.0"/><circle cx="338.2" cy="569.1" r="2.0"/><circle cx="337.1" cy="570.2" r="2.0"/><circle cx="340.3" cy="569.1" r="2.0"/><circle cx="341.1" cy="570.5" r="2.0"/><circle cx="342.2" cy="568.2" r="2.0"/><circle cx="342.6" cy="571.5" r="2.0"/><circle cx="344.3" cy="568.8" r="2.0"/><circle cx="345.3" cy="571.3" r="2.0"/><circle cx="347.7" cy="568.5" r="2.0"/><circle cx="346.9" cy="570.4" r="2.0"/><circle cx="349.3" cy="568.8" r="2.0"/><circle cx="348.7" cy="570.2" r="2.0"/><circle cx="352.3" cy="567.8" r="2.0"/><circle cx="351" cy="569.9" r="2.0"/><circle cx="354.2" cy="568" r="2.0"/><circle cx="355" cy="571.4" r="2.0"/></g>
<path d="M66.6 4.4V329.7M66.6 340.5V422.2H680.4" stroke="#000" stroke-width="2.6" fill="none" stroke-linecap="round"/><path d="M61 50.3H66.6" stroke="#000" stroke-width="2.2"/><text x="58.3" y="55.5" text-anchor="end" class="tk">0</text><path d="M61 113.8H66.6" stroke="#000" stroke-width="2.2"/><text x="58.3" y="119" text-anchor="end" class="tk">-5</text><path d="M61 177.2H66.6" stroke="#000" stroke-width="2.2"/><text x="58.3" y="182.4" text-anchor="end" class="tk">-10</text><path d="M61 240.7H66.6" stroke="#000" stroke-width="2.2"/><text x="58.3" y="245.9" text-anchor="end" class="tk">-15</text><path d="M61 304.2H66.6" stroke="#000" stroke-width="2.2"/><text x="58.3" y="309.4" text-anchor="end" class="tk">-20</text><path d="M61 367.3H66.6" stroke="#000" stroke-width="2.2"/><text x="58.3" y="372.5" text-anchor="end" class="tk">-45</text><path d="M89.6 422.2V428" stroke="#000" stroke-width="2.1"/><text x="89.6" y="438.6" text-anchor="middle" class="tk">-3</text><path d="M203 422.2V428" stroke="#000" stroke-width="2.1"/><text x="203" y="438.6" text-anchor="middle" class="tk">-2</text><path d="M316.6 422.2V428" stroke="#000" stroke-width="2.1"/><text x="316.6" y="438.6" text-anchor="middle" class="tk">-1</text><path d="M430.6 422.2V428" stroke="#000" stroke-width="2.1"/><text x="430.6" y="438.6" text-anchor="middle" class="tk">0</text><path d="M544 422.2V428" stroke="#000" stroke-width="2.1"/><text x="544" y="438.6" text-anchor="middle" class="tk">1</text><path d="M658.1 422.2V428" stroke="#000" stroke-width="2.1"/><text x="658.1" y="438.6" text-anchor="middle" class="tk">2</text>
<path d="M66.7 516.8V934.4H680.4" stroke="#000" stroke-width="2.6" fill="none" stroke-linecap="round"/><path d="M61 572.9H66.7" stroke="#000" stroke-width="2.2"/><text x="58.3" y="578.1" text-anchor="end" class="tk">0</text><path d="M61 699.1H66.7" stroke="#000" stroke-width="2.2"/><text x="58.3" y="704.3" text-anchor="end" class="tk">-5</text><path d="M61 825H66.7" stroke="#000" stroke-width="2.2"/><text x="58.3" y="830.2" text-anchor="end" class="tk">-10</text><path d="M125.9 934.4V940.2" stroke="#000" stroke-width="2.1"/><text x="125.9" y="950.8" text-anchor="middle" class="tk">-2</text><path d="M260.8 934.4V940.2" stroke="#000" stroke-width="2.1"/><text x="260.8" y="950.8" text-anchor="middle" class="tk">-1</text><path d="M395 934.4V940.2" stroke="#000" stroke-width="2.1"/><text x="395" y="950.8" text-anchor="middle" class="tk">0</text><path d="M530 934.4V940.2" stroke="#000" stroke-width="2.1"/><text x="530" y="950.8" text-anchor="middle" class="tk">1</text><path d="M664.8 934.4V940.2" stroke="#000" stroke-width="2.1"/><text x="664.8" y="950.8" text-anchor="middle" class="tk">2</text>
<path d="M60.7 335.3L71.7 327.9M61 343.5L71.7 336.4" stroke="#000" stroke-width="2.5" stroke-linecap="round"/>
<path d="M529.4 337.2L530.7 335.9M529.4 345.5L539 335.9M534.5 348.8L544.8 338.5M542.3 348.8L544.8 346.3" stroke="#d91c1c" stroke-width="2.3" stroke-linecap="round" fill="none"/><text x="564" y="349.7" class="lg">Purifying</text><path d="M529.4 361.8L529.9 361.3M529.4 369.6L537.7 361.3M533.1 374.4L544.8 362.7M541.3 374.4L544.8 370.9" stroke="#1208c8" stroke-width="2.3" stroke-linecap="round" fill="none"/><text x="564" y="375.1" class="lg">Positive</text><path d="M529.4 393.6L536.1 386.9M531.4 400L544.5 386.9M539.5 400L544.8 394.7" stroke="#28e028" stroke-width="2.3" stroke-linecap="round" fill="none"/><text x="564" y="400.5" class="lg">Balancing</text>
<text x="3" y="21.7" class="pl">A</text>
<text x="2.8" y="533.7" class="pl">B</text>
<text x="373.7" y="472.7" text-anchor="middle" class="lab">Tajima's D</text>
<text x="373.7" y="984.4" text-anchor="middle" class="lab">Tajima's D</text>
<text transform="translate(40.2 213.7) rotate(-90)" text-anchor="middle" class="lab">Fay and Wu's H</text>
<text transform="translate(41 725.3) rotate(-90)" text-anchor="middle" class="lab">Fay and Wu's H</text>
</svg>
</body></html>
